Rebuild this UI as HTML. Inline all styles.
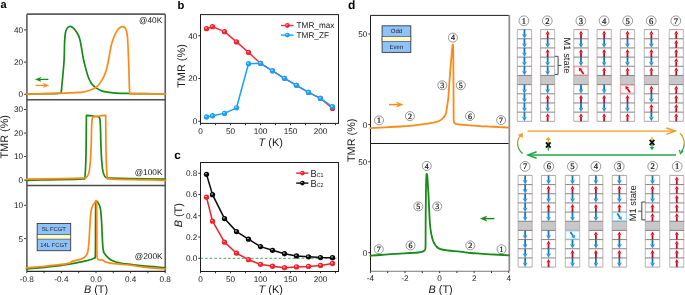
<!DOCTYPE html>
<html><head><meta charset="utf-8"><style>
html,body{margin:0;padding:0;background:#fff;}
svg{display:block;} svg{will-change:transform;} text{text-rendering:geometricPrecision;}
</style></head><body>
<svg xmlns="http://www.w3.org/2000/svg" width="685" height="295" viewBox="0 0 685 295">
<defs>
<radialGradient id="gr" cx="0.4" cy="0.38" r="0.6"><stop offset="0" stop-color="#fff" stop-opacity="0.95"/><stop offset="0.35" stop-color="#f2232d"/><stop offset="1" stop-color="#f2232d"/></radialGradient>
<radialGradient id="gb" cx="0.4" cy="0.38" r="0.6"><stop offset="0" stop-color="#fff" stop-opacity="0.95"/><stop offset="0.35" stop-color="#18a0fa"/><stop offset="1" stop-color="#18a0fa"/></radialGradient>
<radialGradient id="gk" cx="0.4" cy="0.38" r="0.6"><stop offset="0" stop-color="#fff" stop-opacity="0.95"/><stop offset="0.35" stop-color="#0a0a0a"/><stop offset="1" stop-color="#0a0a0a"/></radialGradient>
<linearGradient id="cvL" x1="0" y1="1" x2="0" y2="0"><stop offset="0" stop-color="#22a040"/><stop offset="0.5" stop-color="#8cae2a"/><stop offset="1" stop-color="#f39a1e"/></linearGradient>
<linearGradient id="cvR" x1="0" y1="0" x2="0" y2="1"><stop offset="0" stop-color="#f39a1e"/><stop offset="0.5" stop-color="#b0b020"/><stop offset="1" stop-color="#22a040"/></linearGradient>
</defs>
<rect width="685" height="295" fill="#fff"/>
<g stroke="#5c5c5c" stroke-width="1.6" fill="none">
<line x1="26.9" y1="14.15" x2="165.25" y2="14.15"/>
<line x1="26.9" y1="14.15" x2="26.9" y2="271.4"/>
<line x1="165.25" y1="14.15" x2="165.25" y2="271.4"/>
<line x1="26.9" y1="99.8" x2="165.25" y2="99.8" stroke="#4a4a4a" stroke-width="1.4"/>
<line x1="26.9" y1="185.5" x2="165.25" y2="185.5" stroke="#4a4a4a" stroke-width="1.4"/>
<line x1="26.9" y1="271.4" x2="165.25" y2="271.4" stroke="#2a2a2a" stroke-width="1.2"/>
</g>
<line x1="24.1" y1="94.3" x2="26.1" y2="94.3" stroke="#1c1c1c" stroke-width="0.9" />
<text x="23.1" y="97.2" font-size="8.2" text-anchor="end" fill="#1a1a1a" font-family="Liberation Sans" >0</text>
<line x1="24.1" y1="62.1" x2="26.1" y2="62.1" stroke="#1c1c1c" stroke-width="0.9" />
<text x="23.1" y="65" font-size="8.2" text-anchor="end" fill="#1a1a1a" font-family="Liberation Sans" >20</text>
<line x1="24.1" y1="29.9" x2="26.1" y2="29.9" stroke="#1c1c1c" stroke-width="0.9" />
<text x="23.1" y="32.8" font-size="8.2" text-anchor="end" fill="#1a1a1a" font-family="Liberation Sans" >40</text>
<line x1="24.1" y1="180.1" x2="26.1" y2="180.1" stroke="#1c1c1c" stroke-width="0.9" />
<text x="23.1" y="183" font-size="8.2" text-anchor="end" fill="#1a1a1a" font-family="Liberation Sans" >0</text>
<line x1="24.1" y1="156.5" x2="26.1" y2="156.5" stroke="#1c1c1c" stroke-width="0.9" />
<text x="23.1" y="159.4" font-size="8.2" text-anchor="end" fill="#1a1a1a" font-family="Liberation Sans" >10</text>
<line x1="24.1" y1="133.1" x2="26.1" y2="133.1" stroke="#1c1c1c" stroke-width="0.9" />
<text x="23.1" y="136" font-size="8.2" text-anchor="end" fill="#1a1a1a" font-family="Liberation Sans" >20</text>
<line x1="24.1" y1="109.4" x2="26.1" y2="109.4" stroke="#1c1c1c" stroke-width="0.9" />
<text x="23.1" y="112.3" font-size="8.2" text-anchor="end" fill="#1a1a1a" font-family="Liberation Sans" >30</text>
<line x1="24.1" y1="238.6" x2="26.1" y2="238.6" stroke="#1c1c1c" stroke-width="0.9" />
<text x="23.1" y="241.5" font-size="8.2" text-anchor="end" fill="#1a1a1a" font-family="Liberation Sans" >5</text>
<line x1="24.1" y1="205.3" x2="26.1" y2="205.3" stroke="#1c1c1c" stroke-width="0.9" />
<text x="23.1" y="208.2" font-size="8.2" text-anchor="end" fill="#1a1a1a" font-family="Liberation Sans" >10</text>
<line x1="26.8" y1="271.4" x2="26.8" y2="273.2" stroke="#1c1c1c" stroke-width="0.9" />
<line x1="44.1" y1="271.4" x2="44.1" y2="273.2" stroke="#1c1c1c" stroke-width="0.9" />
<line x1="61.4" y1="271.4" x2="61.4" y2="273.2" stroke="#1c1c1c" stroke-width="0.9" />
<line x1="78.7" y1="271.4" x2="78.7" y2="273.2" stroke="#1c1c1c" stroke-width="0.9" />
<line x1="96" y1="271.4" x2="96" y2="273.2" stroke="#1c1c1c" stroke-width="0.9" />
<line x1="113.3" y1="271.4" x2="113.3" y2="273.2" stroke="#1c1c1c" stroke-width="0.9" />
<line x1="130.6" y1="271.4" x2="130.6" y2="273.2" stroke="#1c1c1c" stroke-width="0.9" />
<line x1="147.9" y1="271.4" x2="147.9" y2="273.2" stroke="#1c1c1c" stroke-width="0.9" />
<line x1="165.2" y1="271.4" x2="165.2" y2="273.2" stroke="#1c1c1c" stroke-width="0.9" />
<text x="26.8" y="282" font-size="8.2" text-anchor="middle" fill="#1a1a1a" font-family="Liberation Sans" >-0.8</text>
<text x="61.4" y="282" font-size="8.2" text-anchor="middle" fill="#1a1a1a" font-family="Liberation Sans" >-0.4</text>
<text x="96" y="282" font-size="8.2" text-anchor="middle" fill="#1a1a1a" font-family="Liberation Sans" >0.0</text>
<text x="130.6" y="282" font-size="8.2" text-anchor="middle" fill="#1a1a1a" font-family="Liberation Sans" >0.4</text>
<text x="165.2" y="282" font-size="8.2" text-anchor="middle" fill="#1a1a1a" font-family="Liberation Sans" >0.8</text>
<text x="96" y="292.5" font-size="10.9" text-anchor="middle" fill="#1a1a1a" font-family="Liberation Sans"><tspan font-style="italic">B</tspan> (T)</text>
<text transform="translate(8.3,136.8) rotate(-90)" font-size="10.9" text-anchor="middle" fill="#1a1a1a" font-family="Liberation Sans">TMR (%)</text>
<text x="0.6" y="8.2" font-size="11" font-weight="bold" fill="#000" font-family="Liberation Sans">a</text>
<text x="162.2" y="23.3" font-size="8.3" text-anchor="end" fill="#111" font-family="Liberation Sans" >@40K</text>
<text x="162.5" y="175.3" font-size="8.3" text-anchor="end" fill="#111" font-family="Liberation Sans" >@100K</text>
<text x="162.6" y="259.3" font-size="8.3" text-anchor="end" fill="#111" font-family="Liberation Sans" >@200K</text>
<path d="M26.5,94 C29.58,93.95 39.75,93.82 45,93.7 C50.25,93.58 55.3,93.43 58,93.3 C60.7,93.17 60.67,92.97 61.2,92.9 C61.47,90.08 62.32,81.48 62.8,76 C63.28,70.52 63.8,65.67 64.1,60 C64.4,54.33 64.38,46.5 64.6,42 C64.82,37.5 65.02,35.23 65.4,33 C65.78,30.77 66.2,29.68 66.9,28.6 C67.6,27.52 68.7,26.73 69.6,26.5 C70.5,26.27 71.35,26.58 72.3,27.2 C73.25,27.82 74.35,28.98 75.3,30.2 C76.25,31.42 77.28,33.12 78,34.5 C78.72,35.88 79.07,36.58 79.6,38.5 C80.13,40.42 80.58,42.67 81.2,46 C81.82,49.33 82.58,54.92 83.3,58.5 C84.02,62.08 84.72,64.53 85.5,67.5 C86.28,70.47 87.17,73.92 88,76.3 C88.83,78.68 89.67,80.3 90.5,81.8 C91.33,83.3 92.08,84.28 93,85.3 C93.92,86.32 94.67,87.02 96,87.9 C97.33,88.78 99.33,89.93 101,90.6 C102.67,91.27 103.5,91.48 106,91.9 C108.5,92.32 112.03,92.83 116,93.1 C119.97,93.37 124.97,93.4 129.8,93.5 C134.63,93.6 139.07,93.65 145,93.7 C150.93,93.75 162,93.78 165.4,93.8" fill="none" stroke="#178a17" stroke-width="1.7" stroke-linejoin="round" stroke-linecap="round" />
<path d="M26.5,94.1 C29.58,94.05 39.42,93.92 45,93.8 C50.58,93.68 55,93.58 60,93.4 C65,93.22 71,92.97 75,92.7 C79,92.43 81.5,92.22 84,91.8 C86.5,91.38 88.33,90.77 90,90.2 C91.67,89.63 92.75,89.1 94,88.4 C95.25,87.7 96.33,87.13 97.5,86 C98.67,84.87 99.87,83.33 101,81.6 C102.13,79.87 103.37,77.7 104.3,75.6 C105.23,73.5 105.93,71.43 106.6,69 C107.27,66.57 107.78,63.58 108.3,61 C108.82,58.42 109.22,56.08 109.7,53.5 C110.18,50.92 110.65,47.83 111.2,45.5 C111.75,43.17 112.35,41.37 113,39.5 C113.65,37.63 114.27,35.95 115.1,34.3 C115.93,32.65 117.1,30.77 118,29.6 C118.9,28.43 119.77,27.8 120.5,27.3 C121.23,26.8 121.72,26.6 122.4,26.6 C123.08,26.6 123.97,26.7 124.6,27.3 C125.23,27.9 125.75,28.83 126.2,30.2 C126.65,31.57 126.98,32.53 127.3,35.5 C127.62,38.47 127.83,42.25 128.1,48 C128.37,53.75 128.65,62.63 128.9,70 C129.15,77.37 129.37,88.27 129.6,92.2 C129.83,96.13 130.18,93.37 130.3,93.6 C131.92,93.63 134.15,93.75 140,93.8 C145.85,93.85 161.17,93.88 165.4,93.9" fill="none" stroke="#fc8a18" stroke-width="1.7" stroke-linejoin="round" stroke-linecap="round" />
<line x1="39.32" y1="79.4" x2="48.4" y2="79.4" stroke="#178a17" stroke-width="1.3" />
<path d="M35.4,79.4 L41,77.3 L39.32,79.4 L41,81.5 Z" fill="#178a17" stroke="#178a17" stroke-width="0.4" stroke-linejoin="round"/>
<line x1="35.6" y1="85.4" x2="44.88" y2="85.4" stroke="#fc8a18" stroke-width="1.3" />
<path d="M48.8,85.4 L43.2,83.3 L44.88,85.4 L43.2,87.5 Z" fill="#fc8a18" stroke="#fc8a18" stroke-width="0.4" stroke-linejoin="round"/>
<path d="M26.5,180.3 C30.42,180.22 41.92,179.97 50,179.8 C58.08,179.63 69.22,179.45 75,179.3 C80.78,179.15 83.08,178.97 84.7,178.9 C84.77,178.32 84.92,178.22 85.1,175.4 C85.28,172.58 85.62,167.9 85.8,162 C85.98,156.1 86.1,147.77 86.2,140 C86.3,132.23 86.37,119.5 86.4,115.4 C87.33,115.48 90.05,115.68 92,115.9 C93.95,116.12 96.88,116.42 98.1,116.7 C99.32,116.98 98.98,117.08 99.3,117.6 C99.62,118.12 99.8,118.07 100,119.8 C100.2,121.53 100.35,123.8 100.5,128 C100.65,132.2 100.68,139.33 100.9,145 C101.12,150.67 101.45,157.55 101.8,162 C102.15,166.45 102.5,169.3 103,171.7 C103.5,174.1 104.18,175.4 104.8,176.4 C105.42,177.4 105.83,177.42 106.7,177.7 C107.57,177.98 106.12,177.93 110,178.1 C113.88,178.27 120.77,178.52 130,178.7 C139.23,178.88 159.5,179.12 165.4,179.2" fill="none" stroke="#178a17" stroke-width="1.7" stroke-linejoin="round" stroke-linecap="round" />
<path d="M26.7,179.2 C32.6,179.12 52.87,178.88 62.1,178.7 C71.33,178.52 78.22,178.27 82.1,178.1 C85.98,177.93 84.53,177.98 85.4,177.7 C86.27,177.42 86.68,177.4 87.3,176.4 C87.92,175.4 88.6,174.1 89.1,171.7 C89.6,169.3 89.95,166.45 90.3,162 C90.65,157.55 90.98,150.67 91.2,145 C91.42,139.33 91.45,132.2 91.6,128 C91.75,123.8 91.9,121.53 92.1,119.8 C92.3,118.07 92.48,118.12 92.8,117.6 C93.12,117.08 92.78,116.98 94,116.7 C95.22,116.42 98.15,116.12 100.1,115.9 C102.05,115.68 104.77,115.48 105.7,115.4 C105.73,119.5 105.8,132.23 105.9,140 C106,147.77 106.12,156.1 106.3,162 C106.48,167.9 106.82,172.58 107,175.4 C107.18,178.22 107.33,178.32 107.4,178.9 C109.02,178.97 111.32,179.15 117.1,179.3 C122.88,179.45 134.02,179.63 142.1,179.8 C150.18,179.97 161.68,180.22 165.6,180.3" fill="none" stroke="#fc8a18" stroke-width="1.7" stroke-linejoin="round" stroke-linecap="round" />
<path d="M26.5,268.8 C27.92,268.68 31.97,268.35 35,268.1 C38.03,267.85 41.37,267.62 44.7,267.3 C48.03,266.98 51.88,266.58 55,266.2 C58.12,265.82 60.57,265.42 63.4,265 C66.23,264.58 69.2,264.18 72,263.7 C74.8,263.22 77.87,262.58 80.2,262.1 C82.53,261.62 84.37,261.18 86,260.8 C87.63,260.42 88.83,260.13 90,259.8 C91.17,259.47 92.23,259.13 93,258.8 C93.77,258.47 94.22,258.22 94.6,257.8 C94.98,257.38 95.15,259.27 95.3,256.3 C95.45,253.33 95.45,246.88 95.5,240 C95.55,233.12 95.55,221.17 95.6,215 C95.65,208.83 95.7,205.37 95.8,203 C95.9,200.63 95.98,201.03 96.2,200.8 C96.42,200.57 96.77,201.22 97.1,201.6 C97.43,201.98 97.75,202.33 98.2,203.1 C98.65,203.87 99.37,204.83 99.8,206.2 C100.23,207.57 100.5,208.67 100.8,211.3 C101.1,213.93 101.37,218.05 101.6,222 C101.83,225.95 102,231 102.2,235 C102.4,239 102.57,243.2 102.8,246 C103.03,248.8 103.2,250.4 103.6,251.8 C104,253.2 104.47,253.43 105.2,254.4 C105.93,255.37 107.03,256.67 108,257.6 C108.97,258.53 110,259.38 111,260 C112,260.62 112.83,260.88 114,261.3 C115.17,261.72 116.5,262.13 118,262.5 C119.5,262.87 120.67,263.17 123,263.5 C125.33,263.83 128.67,264.12 132,264.5 C135.33,264.88 139.33,265.43 143,265.8 C146.67,266.17 150.27,266.35 154,266.7 C157.73,267.05 163.5,267.7 165.4,267.9" fill="none" stroke="#178a17" stroke-width="1.7" stroke-linejoin="round" stroke-linecap="round" />
<path d="M26.5,267.9 C27.92,267.77 31.97,267.37 35,267.1 C38.03,266.83 41.37,266.62 44.7,266.3 C48.03,265.98 51.88,265.57 55,265.2 C58.12,264.83 60.97,264.45 63.4,264.1 C65.83,263.75 68.23,263.53 69.6,263.1 C70.97,262.67 70.7,261.92 71.6,261.5 C72.5,261.08 73.57,260.95 75,260.6 C76.43,260.25 78.87,259.78 80.2,259.4 C81.53,259.02 82.2,258.73 83,258.3 C83.8,257.87 84.37,257.43 85,256.8 C85.63,256.17 86.33,255.33 86.8,254.5 C87.27,253.67 87.5,253.22 87.8,251.8 C88.1,250.38 88.35,248.63 88.6,246 C88.85,243.37 89.07,239.67 89.3,236 C89.53,232.33 89.78,227.5 90,224 C90.22,220.5 90.37,217.42 90.6,215 C90.83,212.58 91.05,211.03 91.4,209.5 C91.75,207.97 92.23,206.82 92.7,205.8 C93.17,204.78 93.75,204.1 94.2,203.4 C94.65,202.7 95.08,202.03 95.4,201.6 C95.72,201.17 95.9,200.65 96.1,200.8 C96.3,200.95 96.48,200.13 96.6,202.5 C96.72,204.87 96.75,208.75 96.8,215 C96.85,221.25 96.87,233.13 96.9,240 C96.93,246.87 96.85,253.03 97,256.2 C97.15,259.37 97.4,258.37 97.8,259 C98.2,259.63 98.78,259.87 99.4,260 C100.02,260.13 100.82,259.7 101.5,259.8 C102.18,259.9 102.92,260.27 103.5,260.6 C104.08,260.93 104.25,261.45 105,261.8 C105.75,262.15 106.5,262.4 108,262.7 C109.5,263 111.5,263.3 114,263.6 C116.5,263.9 120,264.2 123,264.5 C126,264.8 128.67,264.95 132,265.4 C135.33,265.85 139.33,266.75 143,267.2 C146.67,267.65 150.27,267.8 154,268.1 C157.73,268.4 163.5,268.85 165.4,269" fill="none" stroke="#fc8a18" stroke-width="1.7" stroke-linejoin="round" stroke-linecap="round" />
<rect x="37.2" y="223.5" width="33.5" height="27.2" fill="#8ec2fa" stroke="#3a3a3a" stroke-width="0.9"/>
<rect x="37.2" y="234.7" width="33.5" height="4.4" fill="#fefbcc" stroke="#3a3a3a" stroke-width="0.6"/>
<text x="53.95" y="231.22" font-size="5.9" text-anchor="middle" fill="#222" font-family="Liberation Sans" >5L FCGT</text>
<text x="53.95" y="247.02" font-size="5.9" text-anchor="middle" fill="#222" font-family="Liberation Sans" >14L FCGT</text>
<rect x="200.5" y="14.6" width="138" height="108.8" fill="none" stroke="#1c1c1c" stroke-width="1"/>
<line x1="198.3" y1="121.3" x2="200.5" y2="121.3" stroke="#1c1c1c" stroke-width="0.9" />
<text x="197.3" y="124.2" font-size="8.2" text-anchor="end" fill="#1a1a1a" font-family="Liberation Sans" >0</text>
<line x1="198.3" y1="78.5" x2="200.5" y2="78.5" stroke="#1c1c1c" stroke-width="0.9" />
<text x="197.3" y="81.4" font-size="8.2" text-anchor="end" fill="#1a1a1a" font-family="Liberation Sans" >20</text>
<line x1="198.3" y1="35.7" x2="200.5" y2="35.7" stroke="#1c1c1c" stroke-width="0.9" />
<text x="197.3" y="38.6" font-size="8.2" text-anchor="end" fill="#1a1a1a" font-family="Liberation Sans" >40</text>
<line x1="200.5" y1="123.4" x2="200.5" y2="125.2" stroke="#1c1c1c" stroke-width="0.9" />
<line x1="215.5" y1="123.4" x2="215.5" y2="125.2" stroke="#1c1c1c" stroke-width="0.9" />
<line x1="230.5" y1="123.4" x2="230.5" y2="125.2" stroke="#1c1c1c" stroke-width="0.9" />
<line x1="245.5" y1="123.4" x2="245.5" y2="125.2" stroke="#1c1c1c" stroke-width="0.9" />
<line x1="260.5" y1="123.4" x2="260.5" y2="125.2" stroke="#1c1c1c" stroke-width="0.9" />
<line x1="275.5" y1="123.4" x2="275.5" y2="125.2" stroke="#1c1c1c" stroke-width="0.9" />
<line x1="290.5" y1="123.4" x2="290.5" y2="125.2" stroke="#1c1c1c" stroke-width="0.9" />
<line x1="305.5" y1="123.4" x2="305.5" y2="125.2" stroke="#1c1c1c" stroke-width="0.9" />
<line x1="320.5" y1="123.4" x2="320.5" y2="125.2" stroke="#1c1c1c" stroke-width="0.9" />
<line x1="335.5" y1="123.4" x2="335.5" y2="125.2" stroke="#1c1c1c" stroke-width="0.9" />
<text x="200.5" y="133.6" font-size="8.2" text-anchor="middle" fill="#1a1a1a" font-family="Liberation Sans" >0</text>
<text x="230.5" y="133.6" font-size="8.2" text-anchor="middle" fill="#1a1a1a" font-family="Liberation Sans" >50</text>
<text x="260.5" y="133.6" font-size="8.2" text-anchor="middle" fill="#1a1a1a" font-family="Liberation Sans" >100</text>
<text x="290.5" y="133.6" font-size="8.2" text-anchor="middle" fill="#1a1a1a" font-family="Liberation Sans" >150</text>
<text x="320.5" y="133.6" font-size="8.2" text-anchor="middle" fill="#1a1a1a" font-family="Liberation Sans" >200</text>
<text x="270.7" y="145.8" font-size="10.9" text-anchor="middle" fill="#1a1a1a" font-family="Liberation Sans"><tspan font-style="italic">T</tspan> (K)</text>
<text transform="translate(184.6,66) rotate(-90)" font-size="10.9" text-anchor="middle" fill="#1a1a1a" font-family="Liberation Sans">TMR (%)</text>
<text x="177.6" y="8.8" font-size="11.2" font-weight="bold" fill="#000" font-family="Liberation Sans">b</text>
<path d="M206.5,28.64 L212.5,26.71 L224.5,31.63 L236.5,41.91 L248.5,52.39 L260.5,63.31 L272.5,70.8 L284.5,78.29 L296.5,85.35 L308.5,92.41 L320.5,98.4 L332.5,108.46" fill="none" stroke="#f0303a" stroke-width="1.5" stroke-linejoin="round" stroke-linecap="round" />
<circle cx="206.5" cy="28.64" r="2.65" fill="url(#gr)"/>
<circle cx="212.5" cy="26.71" r="2.65" fill="url(#gr)"/>
<circle cx="224.5" cy="31.63" r="2.65" fill="url(#gr)"/>
<circle cx="236.5" cy="41.91" r="2.65" fill="url(#gr)"/>
<circle cx="248.5" cy="52.39" r="2.65" fill="url(#gr)"/>
<circle cx="260.5" cy="63.31" r="2.65" fill="url(#gr)"/>
<circle cx="272.5" cy="70.8" r="2.65" fill="url(#gr)"/>
<circle cx="284.5" cy="78.29" r="2.65" fill="url(#gr)"/>
<circle cx="296.5" cy="85.35" r="2.65" fill="url(#gr)"/>
<circle cx="308.5" cy="92.41" r="2.65" fill="url(#gr)"/>
<circle cx="320.5" cy="98.4" r="2.65" fill="url(#gr)"/>
<circle cx="332.5" cy="108.46" r="2.65" fill="url(#gr)"/>
<path d="M206.5,117.02 L212.5,115.74 L224.5,113.38 L236.5,107.82 L248.5,63.73 L260.5,63.31 L272.5,70.8 L284.5,78.29 L296.5,85.35 L308.5,92.41 L320.5,98.4 L332.5,106.75" fill="none" stroke="#18a0fa" stroke-width="1.5" stroke-linejoin="round" stroke-linecap="round" />
<circle cx="206.5" cy="117.02" r="2.65" fill="url(#gb)"/>
<circle cx="212.5" cy="115.74" r="2.65" fill="url(#gb)"/>
<circle cx="224.5" cy="113.38" r="2.65" fill="url(#gb)"/>
<circle cx="236.5" cy="107.82" r="2.65" fill="url(#gb)"/>
<circle cx="248.5" cy="63.73" r="2.65" fill="url(#gb)"/>
<circle cx="260.5" cy="63.31" r="2.65" fill="url(#gb)"/>
<circle cx="272.5" cy="70.8" r="2.65" fill="url(#gb)"/>
<circle cx="284.5" cy="78.29" r="2.65" fill="url(#gb)"/>
<circle cx="296.5" cy="85.35" r="2.65" fill="url(#gb)"/>
<circle cx="308.5" cy="92.41" r="2.65" fill="url(#gb)"/>
<circle cx="320.5" cy="98.4" r="2.65" fill="url(#gb)"/>
<circle cx="332.5" cy="106.75" r="2.65" fill="url(#gb)"/>
<line x1="281" y1="25.5" x2="293.6" y2="25.5" stroke="#f0303a" stroke-width="1.4" />
<circle cx="287.4" cy="25.5" r="2.4" fill="url(#gr)"/>
<text x="296.6" y="28.4" font-size="8.2" text-anchor="start" fill="#1a1a1a" font-family="Liberation Sans" >TMR_max</text>
<line x1="281" y1="35.1" x2="293.6" y2="35.1" stroke="#18a0fa" stroke-width="1.4" />
<circle cx="287.4" cy="35.1" r="2.4" fill="url(#gb)"/>
<text x="296.6" y="38" font-size="8.2" text-anchor="start" fill="#1a1a1a" font-family="Liberation Sans" >TMR_ZF</text>
<rect x="200.5" y="162.5" width="138" height="109" fill="none" stroke="#1c1c1c" stroke-width="1"/>
<line x1="198.3" y1="258.3" x2="200.5" y2="258.3" stroke="#1c1c1c" stroke-width="0.9" />
<text x="197.3" y="261.2" font-size="8.2" text-anchor="end" fill="#1a1a1a" font-family="Liberation Sans" >0.0</text>
<line x1="198.3" y1="237.04" x2="200.5" y2="237.04" stroke="#1c1c1c" stroke-width="0.9" />
<text x="197.3" y="239.94" font-size="8.2" text-anchor="end" fill="#1a1a1a" font-family="Liberation Sans" >0.2</text>
<line x1="198.3" y1="215.78" x2="200.5" y2="215.78" stroke="#1c1c1c" stroke-width="0.9" />
<text x="197.3" y="218.68" font-size="8.2" text-anchor="end" fill="#1a1a1a" font-family="Liberation Sans" >0.4</text>
<line x1="198.3" y1="194.52" x2="200.5" y2="194.52" stroke="#1c1c1c" stroke-width="0.9" />
<text x="197.3" y="197.42" font-size="8.2" text-anchor="end" fill="#1a1a1a" font-family="Liberation Sans" >0.6</text>
<line x1="198.3" y1="173.26" x2="200.5" y2="173.26" stroke="#1c1c1c" stroke-width="0.9" />
<text x="197.3" y="176.16" font-size="8.2" text-anchor="end" fill="#1a1a1a" font-family="Liberation Sans" >0.8</text>
<line x1="200.5" y1="271.5" x2="200.5" y2="273.3" stroke="#1c1c1c" stroke-width="0.9" />
<line x1="215.5" y1="271.5" x2="215.5" y2="273.3" stroke="#1c1c1c" stroke-width="0.9" />
<line x1="230.5" y1="271.5" x2="230.5" y2="273.3" stroke="#1c1c1c" stroke-width="0.9" />
<line x1="245.5" y1="271.5" x2="245.5" y2="273.3" stroke="#1c1c1c" stroke-width="0.9" />
<line x1="260.5" y1="271.5" x2="260.5" y2="273.3" stroke="#1c1c1c" stroke-width="0.9" />
<line x1="275.5" y1="271.5" x2="275.5" y2="273.3" stroke="#1c1c1c" stroke-width="0.9" />
<line x1="290.5" y1="271.5" x2="290.5" y2="273.3" stroke="#1c1c1c" stroke-width="0.9" />
<line x1="305.5" y1="271.5" x2="305.5" y2="273.3" stroke="#1c1c1c" stroke-width="0.9" />
<line x1="320.5" y1="271.5" x2="320.5" y2="273.3" stroke="#1c1c1c" stroke-width="0.9" />
<line x1="335.5" y1="271.5" x2="335.5" y2="273.3" stroke="#1c1c1c" stroke-width="0.9" />
<text x="200.5" y="281.6" font-size="8.2" text-anchor="middle" fill="#1a1a1a" font-family="Liberation Sans" >0</text>
<text x="230.5" y="281.6" font-size="8.2" text-anchor="middle" fill="#1a1a1a" font-family="Liberation Sans" >50</text>
<text x="260.5" y="281.6" font-size="8.2" text-anchor="middle" fill="#1a1a1a" font-family="Liberation Sans" >100</text>
<text x="290.5" y="281.6" font-size="8.2" text-anchor="middle" fill="#1a1a1a" font-family="Liberation Sans" >150</text>
<text x="320.5" y="281.6" font-size="8.2" text-anchor="middle" fill="#1a1a1a" font-family="Liberation Sans" >200</text>
<text x="270.7" y="292.8" font-size="10.9" text-anchor="middle" fill="#1a1a1a" font-family="Liberation Sans"><tspan font-style="italic">T</tspan> (K)</text>
<text transform="translate(182.2,215.2) rotate(-90)" font-size="10.9" text-anchor="middle" fill="#1a1a1a" font-family="Liberation Sans"><tspan font-style="italic">B</tspan> (T)</text>
<text x="174.2" y="158.8" font-size="11.8" font-weight="bold" fill="#000" font-family="Liberation Sans">c</text>
<line x1="200.5" y1="258.3" x2="338.5" y2="258.3" stroke="#2a9d4a" stroke-width="0.9" stroke-dasharray="2.6,2"/>
<path d="M206.5,174.32 L212.5,194.63 L224.5,218.54 L236.5,231.62 L248.5,239.17 L260.5,246.61 L272.5,250.33 L284.5,253.73 L296.5,255.96 L308.5,256.81 L320.5,257.56 L332.5,257.66" fill="none" stroke="#0a0a0a" stroke-width="1.5" stroke-linejoin="round" stroke-linecap="round" />
<circle cx="206.5" cy="174.32" r="2.65" fill="url(#gk)"/>
<circle cx="212.5" cy="194.63" r="2.65" fill="url(#gk)"/>
<circle cx="224.5" cy="218.54" r="2.65" fill="url(#gk)"/>
<circle cx="236.5" cy="231.62" r="2.65" fill="url(#gk)"/>
<circle cx="248.5" cy="239.17" r="2.65" fill="url(#gk)"/>
<circle cx="260.5" cy="246.61" r="2.65" fill="url(#gk)"/>
<circle cx="272.5" cy="250.33" r="2.65" fill="url(#gk)"/>
<circle cx="284.5" cy="253.73" r="2.65" fill="url(#gk)"/>
<circle cx="296.5" cy="255.96" r="2.65" fill="url(#gk)"/>
<circle cx="308.5" cy="256.81" r="2.65" fill="url(#gk)"/>
<circle cx="320.5" cy="257.56" r="2.65" fill="url(#gk)"/>
<circle cx="332.5" cy="257.66" r="2.65" fill="url(#gk)"/>
<path d="M206.5,197.18 L212.5,221.2 L224.5,242.14 L236.5,253.2 L248.5,259.68 L260.5,264.36 L272.5,266.27 L284.5,267.65 L296.5,266.91 L308.5,266.38 L320.5,265.42 L332.5,263.51" fill="none" stroke="#f0202a" stroke-width="1.5" stroke-linejoin="round" stroke-linecap="round" />
<circle cx="206.5" cy="197.18" r="2.65" fill="url(#gr)"/>
<circle cx="212.5" cy="221.2" r="2.65" fill="url(#gr)"/>
<circle cx="224.5" cy="242.14" r="2.65" fill="url(#gr)"/>
<circle cx="236.5" cy="253.2" r="2.65" fill="url(#gr)"/>
<circle cx="248.5" cy="259.68" r="2.65" fill="url(#gr)"/>
<circle cx="260.5" cy="264.36" r="2.65" fill="url(#gr)"/>
<circle cx="272.5" cy="266.27" r="2.65" fill="url(#gr)"/>
<circle cx="284.5" cy="267.65" r="2.65" fill="url(#gr)"/>
<circle cx="296.5" cy="266.91" r="2.65" fill="url(#gr)"/>
<circle cx="308.5" cy="266.38" r="2.65" fill="url(#gr)"/>
<circle cx="320.5" cy="265.42" r="2.65" fill="url(#gr)"/>
<circle cx="332.5" cy="263.51" r="2.65" fill="url(#gr)"/>
<line x1="296.2" y1="173.1" x2="308.4" y2="173.1" stroke="#f0202a" stroke-width="1.4" />
<circle cx="302.4" cy="173.1" r="2.3" fill="url(#gr)"/>
<line x1="296.2" y1="183.1" x2="308.4" y2="183.1" stroke="#0a0a0a" stroke-width="1.4" />
<circle cx="302.4" cy="183.1" r="2.3" fill="url(#gk)"/>
<text x="310.4" y="176.6" font-size="9.4" fill="#1a1a1a" font-family="Liberation Sans" transform="translate(310.4,176.6) scale(1,1.08) translate(-310.4,-176.6)">B<tspan font-size="5.3" dy="0.5">C1</tspan></text>
<text x="310.4" y="186.8" font-size="9.4" fill="#1a1a1a" font-family="Liberation Sans" transform="translate(310.4,186.8) scale(1,1.08) translate(-310.4,-186.8)">B<tspan font-size="5.3" dy="0.5">C2</tspan></text>
<line x1="370.5" y1="15.4" x2="370.5" y2="271.3" stroke="#1c1c1c" stroke-width="1"/>
<line x1="370.5" y1="15.4" x2="509.0" y2="15.4" stroke="#1c1c1c" stroke-width="1"/>
<line x1="370.5" y1="143.5" x2="509.0" y2="143.5" stroke="#1c1c1c" stroke-width="1"/>
<line x1="370.5" y1="271.3" x2="509.0" y2="271.3" stroke="#777" stroke-width="1.1"/>
<line x1="509.3" y1="14.9" x2="509.3" y2="271.3" stroke="#8c8c8c" stroke-width="1.7"/>
<line x1="368.3" y1="34" x2="370.5" y2="34" stroke="#1c1c1c" stroke-width="0.9" />
<text x="367.3" y="36.9" font-size="8.2" text-anchor="end" fill="#1a1a1a" font-family="Liberation Sans" >50</text>
<line x1="368.3" y1="124.6" x2="370.5" y2="124.6" stroke="#1c1c1c" stroke-width="0.9" />
<text x="367.3" y="127.5" font-size="8.2" text-anchor="end" fill="#1a1a1a" font-family="Liberation Sans" >0</text>
<line x1="368.3" y1="161.8" x2="370.5" y2="161.8" stroke="#1c1c1c" stroke-width="0.9" />
<text x="367.3" y="164.7" font-size="8.2" text-anchor="end" fill="#1a1a1a" font-family="Liberation Sans" >50</text>
<line x1="368.3" y1="252.7" x2="370.5" y2="252.7" stroke="#1c1c1c" stroke-width="0.9" />
<text x="367.3" y="255.6" font-size="8.2" text-anchor="end" fill="#1a1a1a" font-family="Liberation Sans" >0</text>
<line x1="370.4" y1="271.3" x2="370.4" y2="273.1" stroke="#1c1c1c" stroke-width="0.9" />
<line x1="387.7" y1="271.3" x2="387.7" y2="273.1" stroke="#1c1c1c" stroke-width="0.9" />
<line x1="405" y1="271.3" x2="405" y2="273.1" stroke="#1c1c1c" stroke-width="0.9" />
<line x1="422.3" y1="271.3" x2="422.3" y2="273.1" stroke="#1c1c1c" stroke-width="0.9" />
<line x1="439.6" y1="271.3" x2="439.6" y2="273.1" stroke="#1c1c1c" stroke-width="0.9" />
<line x1="456.9" y1="271.3" x2="456.9" y2="273.1" stroke="#1c1c1c" stroke-width="0.9" />
<line x1="474.2" y1="271.3" x2="474.2" y2="273.1" stroke="#1c1c1c" stroke-width="0.9" />
<line x1="491.5" y1="271.3" x2="491.5" y2="273.1" stroke="#1c1c1c" stroke-width="0.9" />
<line x1="508.8" y1="271.3" x2="508.8" y2="273.1" stroke="#1c1c1c" stroke-width="0.9" />
<text x="370.4" y="281" font-size="8.2" text-anchor="middle" fill="#1a1a1a" font-family="Liberation Sans" >-4</text>
<text x="405" y="281" font-size="8.2" text-anchor="middle" fill="#1a1a1a" font-family="Liberation Sans" >-2</text>
<text x="439.6" y="281" font-size="8.2" text-anchor="middle" fill="#1a1a1a" font-family="Liberation Sans" >0</text>
<text x="474.2" y="281" font-size="8.2" text-anchor="middle" fill="#1a1a1a" font-family="Liberation Sans" >2</text>
<text x="508.8" y="281" font-size="8.2" text-anchor="middle" fill="#1a1a1a" font-family="Liberation Sans" >4</text>
<text x="440.6" y="292.6" font-size="10.9" text-anchor="middle" fill="#1a1a1a" font-family="Liberation Sans"><tspan font-style="italic">B</tspan> (T)</text>
<text transform="translate(355.1,140.3) rotate(-90)" font-size="10.9" text-anchor="middle" fill="#1a1a1a" font-family="Liberation Sans">TMR (%)</text>
<text x="348.1" y="9.1" font-size="12" font-weight="bold" fill="#000" font-family="Liberation Sans">d</text>
<rect x="382.1" y="25.8" width="28.7" height="26.6" fill="#8ec2fa" stroke="#3a3a3a" stroke-width="0.9"/>
<rect x="382.1" y="36.5" width="28.7" height="4.8" fill="#fefbcc" stroke="#3a3a3a" stroke-width="0.6"/>
<text x="396.45" y="33.31" font-size="6.0" text-anchor="middle" fill="#222" font-family="Liberation Sans" >Odd</text>
<text x="396.45" y="49.01" font-size="6.0" text-anchor="middle" fill="#222" font-family="Liberation Sans" >Even</text>
<path d="M370.4,128.1 C372.83,127.97 380.07,127.57 385,127.3 C389.93,127.03 395.83,126.75 400,126.5 C404.17,126.25 406.67,126.1 410,125.8 C413.33,125.5 417,125.07 420,124.7 C423,124.33 426,123.9 428,123.6 C430,123.3 430.67,123.17 432,122.9 C433.33,122.63 434.75,122.35 436,122 C437.25,121.65 438.47,121.33 439.5,120.8 C440.53,120.27 441.42,119.5 442.2,118.8 C442.98,118.1 443.67,117.3 444.2,116.6 C444.73,115.9 445.05,115.4 445.4,114.6 C445.75,113.8 445.98,113.4 446.3,111.8 C446.62,110.2 446.97,107.3 447.3,105 C447.63,102.7 447.98,101.33 448.3,98 C448.62,94.67 448.92,89 449.2,85 C449.48,81 449.73,77.5 450,74 C450.27,70.5 450.53,67.17 450.8,64 C451.07,60.83 451.37,57.67 451.6,55 C451.83,52.33 452.02,49.73 452.2,48 C452.38,46.27 452.55,44.85 452.7,44.6 C452.85,44.35 453,44.77 453.1,46.5 C453.2,48.23 453.25,51.08 453.3,55 C453.35,58.92 453.37,64.17 453.4,70 C453.43,75.83 453.47,83.33 453.5,90 C453.53,96.67 453.57,104.97 453.6,110 C453.63,115.03 453.58,118.07 453.7,120.2 C453.82,122.33 453.98,122.18 454.3,122.8 C454.62,123.42 454.98,123.63 455.6,123.9 C456.22,124.17 456.6,124.23 458,124.4 C459.4,124.57 462,124.75 464,124.9 C466,125.05 467.33,125.1 470,125.3 C472.67,125.5 476.67,125.88 480,126.1 C483.33,126.32 486.67,126.43 490,126.6 C493.33,126.77 496.83,126.93 500,127.1 C503.17,127.27 507.5,127.52 509,127.6" fill="none" stroke="#fc8a18" stroke-width="1.8" stroke-linejoin="round" stroke-linecap="round" />
<path d="M370.4,255.7 C372,255.58 376.62,255.25 380,255 C383.38,254.75 387.37,254.43 390.7,254.2 C394.03,253.97 396.78,253.8 400,253.6 C403.22,253.4 407,253.18 410,253 C413,252.82 416,252.68 418,252.5 C420,252.32 420.95,252.23 422,251.9 C423.05,251.57 423.73,251.07 424.3,250.5 C424.87,249.93 425.18,250.25 425.4,248.5 C425.62,246.75 425.55,245.58 425.6,240 C425.65,234.42 425.63,223.33 425.7,215 C425.77,206.67 425.9,196.17 426,190 C426.1,183.83 426.18,180.67 426.3,178 C426.42,175.33 426.53,174.33 426.7,174 C426.87,173.67 427.1,174.17 427.3,176 C427.5,177.83 427.7,181.83 427.9,185 C428.1,188.17 428.3,191.17 428.5,195 C428.7,198.83 428.9,203.83 429.1,208 C429.3,212.17 429.47,216.5 429.7,220 C429.93,223.5 430.2,226.5 430.5,229 C430.8,231.5 431.12,233.17 431.5,235 C431.88,236.83 432.3,238.53 432.8,240 C433.3,241.47 433.88,242.7 434.5,243.8 C435.12,244.9 435.5,245.7 436.5,246.6 C437.5,247.5 438.58,248.55 440.5,249.2 C442.42,249.85 444.75,250.1 448,250.5 C451.25,250.9 456.17,251.18 460,251.6 C463.83,252.02 467.67,252.67 471,253 C474.33,253.33 476.83,253.38 480,253.6 C483.17,253.82 485.17,254.02 490,254.3 C494.83,254.58 505.83,255.13 509,255.3" fill="none" stroke="#178a17" stroke-width="1.8" stroke-linejoin="round" stroke-linecap="round" />
<line x1="389" y1="104.6" x2="398.38" y2="104.6" stroke="#fc8a18" stroke-width="1.5" />
<path d="M403,104.6 L396.4,102 L398.38,104.6 L396.4,107.2 Z" fill="#fc8a18" stroke="#fc8a18" stroke-width="0.4" stroke-linejoin="round"/>
<line x1="484.92" y1="218.6" x2="494.3" y2="218.6" stroke="#178a17" stroke-width="1.5" />
<path d="M480.3,218.6 L486.9,216 L484.92,218.6 L486.9,221.2 Z" fill="#178a17" stroke="#178a17" stroke-width="0.4" stroke-linejoin="round"/>
<circle cx="379" cy="120.4" r="4.5" fill="none" stroke="#444" stroke-width="0.55"/>
<text x="379" y="123.12" font-size="8.0" text-anchor="middle" fill="#111" stroke="#111" stroke-width="0.22" font-family="Liberation Serif">1</text>
<circle cx="409.9" cy="116.1" r="4.5" fill="none" stroke="#444" stroke-width="0.55"/>
<text x="409.9" y="118.82" font-size="8.0" text-anchor="middle" fill="#111" stroke="#111" stroke-width="0.22" font-family="Liberation Serif">2</text>
<circle cx="442.3" cy="85.3" r="4.5" fill="none" stroke="#444" stroke-width="0.55"/>
<text x="442.3" y="88.02" font-size="8.0" text-anchor="middle" fill="#111" stroke="#111" stroke-width="0.22" font-family="Liberation Serif">3</text>
<circle cx="452.9" cy="37.6" r="4.5" fill="none" stroke="#444" stroke-width="0.55"/>
<text x="452.9" y="40.32" font-size="8.0" text-anchor="middle" fill="#111" stroke="#111" stroke-width="0.22" font-family="Liberation Serif">4</text>
<circle cx="460.8" cy="85.3" r="4.5" fill="none" stroke="#444" stroke-width="0.55"/>
<text x="460.8" y="88.02" font-size="8.0" text-anchor="middle" fill="#111" stroke="#111" stroke-width="0.22" font-family="Liberation Serif">5</text>
<circle cx="470" cy="116" r="4.5" fill="none" stroke="#444" stroke-width="0.55"/>
<text x="470" y="118.72" font-size="8.0" text-anchor="middle" fill="#111" stroke="#111" stroke-width="0.22" font-family="Liberation Serif">6</text>
<circle cx="501.1" cy="120.1" r="4.5" fill="none" stroke="#444" stroke-width="0.55"/>
<text x="501.1" y="122.82" font-size="8.0" text-anchor="middle" fill="#111" stroke="#111" stroke-width="0.22" font-family="Liberation Serif">7</text>
<circle cx="501.5" cy="249.2" r="4.5" fill="none" stroke="#444" stroke-width="0.55"/>
<text x="501.5" y="251.92" font-size="8.0" text-anchor="middle" fill="#111" stroke="#111" stroke-width="0.22" font-family="Liberation Serif">1</text>
<circle cx="470.3" cy="245.4" r="4.5" fill="none" stroke="#444" stroke-width="0.55"/>
<text x="470.3" y="248.12" font-size="8.0" text-anchor="middle" fill="#111" stroke="#111" stroke-width="0.22" font-family="Liberation Serif">2</text>
<circle cx="437.2" cy="206.4" r="4.5" fill="none" stroke="#444" stroke-width="0.55"/>
<text x="437.2" y="209.12" font-size="8.0" text-anchor="middle" fill="#111" stroke="#111" stroke-width="0.22" font-family="Liberation Serif">3</text>
<circle cx="426.7" cy="165.9" r="4.5" fill="none" stroke="#444" stroke-width="0.55"/>
<text x="426.7" y="168.62" font-size="8.0" text-anchor="middle" fill="#111" stroke="#111" stroke-width="0.22" font-family="Liberation Serif">4</text>
<circle cx="418.3" cy="206.4" r="4.5" fill="none" stroke="#444" stroke-width="0.55"/>
<text x="418.3" y="209.12" font-size="8.0" text-anchor="middle" fill="#111" stroke="#111" stroke-width="0.22" font-family="Liberation Serif">5</text>
<circle cx="410.5" cy="245.5" r="4.5" fill="none" stroke="#444" stroke-width="0.55"/>
<text x="410.5" y="248.22" font-size="8.0" text-anchor="middle" fill="#111" stroke="#111" stroke-width="0.22" font-family="Liberation Serif">6</text>
<circle cx="378.8" cy="249.2" r="4.5" fill="none" stroke="#444" stroke-width="0.55"/>
<text x="378.8" y="251.92" font-size="8.0" text-anchor="middle" fill="#111" stroke="#111" stroke-width="0.22" font-family="Liberation Serif">7</text>
<rect x="517.3" y="75.45" width="14.3" height="9.17" fill="#c8c8c8"/>
<line x1="517.3" y1="29.6" x2="517.3" y2="121.3" stroke="#b4acac" stroke-width="0.9"/>
<line x1="531.6" y1="29.6" x2="531.6" y2="121.3" stroke="#b4acac" stroke-width="0.9"/>
<line x1="517.3" y1="29.6" x2="531.6" y2="29.6" stroke="#a8a0a0" stroke-width="0.95"/>
<line x1="517.3" y1="38.77" x2="531.6" y2="38.77" stroke="#857b7b" stroke-width="0.95"/>
<line x1="517.3" y1="47.94" x2="531.6" y2="47.94" stroke="#857b7b" stroke-width="0.95"/>
<line x1="517.3" y1="57.11" x2="531.6" y2="57.11" stroke="#857b7b" stroke-width="0.95"/>
<line x1="517.3" y1="66.28" x2="531.6" y2="66.28" stroke="#857b7b" stroke-width="0.95"/>
<line x1="517.3" y1="75.45" x2="531.6" y2="75.45" stroke="#857b7b" stroke-width="0.95"/>
<line x1="517.3" y1="84.62" x2="531.6" y2="84.62" stroke="#857b7b" stroke-width="0.95"/>
<line x1="517.3" y1="93.79" x2="531.6" y2="93.79" stroke="#857b7b" stroke-width="0.95"/>
<line x1="517.3" y1="102.96" x2="531.6" y2="102.96" stroke="#857b7b" stroke-width="0.95"/>
<line x1="517.3" y1="112.13" x2="531.6" y2="112.13" stroke="#857b7b" stroke-width="0.95"/>
<line x1="517.3" y1="121.3" x2="531.6" y2="121.3" stroke="#a8a0a0" stroke-width="0.95"/>
<line x1="524.45" y1="29.6" x2="524.45" y2="35.07" stroke="#1478c0" stroke-width="1.8"/>
<path d="M522.35,34.47 L524.45,38.37 L526.55,34.47 L524.45,35.37 Z" fill="#0e9ae8" stroke="#1a6fae" stroke-width="0.25"/>
<line x1="524.45" y1="38.77" x2="524.45" y2="44.24" stroke="#1478c0" stroke-width="1.8"/>
<path d="M522.35,43.64 L524.45,47.54 L526.55,43.64 L524.45,44.54 Z" fill="#0e9ae8" stroke="#1a6fae" stroke-width="0.25"/>
<line x1="524.45" y1="47.94" x2="524.45" y2="53.41" stroke="#1478c0" stroke-width="1.8"/>
<path d="M522.35,52.81 L524.45,56.71 L526.55,52.81 L524.45,53.71 Z" fill="#0e9ae8" stroke="#1a6fae" stroke-width="0.25"/>
<line x1="524.45" y1="57.11" x2="524.45" y2="62.58" stroke="#1478c0" stroke-width="1.8"/>
<path d="M522.35,61.98 L524.45,65.88 L526.55,61.98 L524.45,62.88 Z" fill="#0e9ae8" stroke="#1a6fae" stroke-width="0.25"/>
<line x1="524.45" y1="66.28" x2="524.45" y2="71.75" stroke="#1478c0" stroke-width="1.8"/>
<path d="M522.35,71.15 L524.45,75.05 L526.55,71.15 L524.45,72.05 Z" fill="#0e9ae8" stroke="#1a6fae" stroke-width="0.25"/>
<line x1="524.45" y1="84.62" x2="524.45" y2="90.09" stroke="#1478c0" stroke-width="1.8"/>
<path d="M522.35,89.49 L524.45,93.39 L526.55,89.49 L524.45,90.39 Z" fill="#0e9ae8" stroke="#1a6fae" stroke-width="0.25"/>
<line x1="524.45" y1="93.79" x2="524.45" y2="99.26" stroke="#1478c0" stroke-width="1.8"/>
<path d="M522.35,98.66 L524.45,102.56 L526.55,98.66 L524.45,99.56 Z" fill="#0e9ae8" stroke="#1a6fae" stroke-width="0.25"/>
<line x1="524.45" y1="102.96" x2="524.45" y2="108.43" stroke="#1478c0" stroke-width="1.8"/>
<path d="M522.35,107.83 L524.45,111.73 L526.55,107.83 L524.45,108.73 Z" fill="#0e9ae8" stroke="#1a6fae" stroke-width="0.25"/>
<line x1="524.45" y1="112.13" x2="524.45" y2="117.6" stroke="#1478c0" stroke-width="1.8"/>
<path d="M522.35,117 L524.45,120.9 L526.55,117 L524.45,117.9 Z" fill="#0e9ae8" stroke="#1a6fae" stroke-width="0.25"/>
<rect x="540.6" y="75.45" width="14.1" height="9.17" fill="#c8c8c8"/>
<line x1="540.6" y1="29.6" x2="540.6" y2="121.3" stroke="#b4acac" stroke-width="0.9"/>
<line x1="554.7" y1="29.6" x2="554.7" y2="121.3" stroke="#b4acac" stroke-width="0.9"/>
<line x1="540.6" y1="29.6" x2="554.7" y2="29.6" stroke="#a8a0a0" stroke-width="0.95"/>
<line x1="540.6" y1="38.77" x2="554.7" y2="38.77" stroke="#857b7b" stroke-width="0.95"/>
<line x1="540.6" y1="47.94" x2="554.7" y2="47.94" stroke="#857b7b" stroke-width="0.95"/>
<line x1="540.6" y1="57.11" x2="554.7" y2="57.11" stroke="#857b7b" stroke-width="0.95"/>
<line x1="540.6" y1="66.28" x2="554.7" y2="66.28" stroke="#857b7b" stroke-width="0.95"/>
<line x1="540.6" y1="75.45" x2="554.7" y2="75.45" stroke="#857b7b" stroke-width="0.95"/>
<line x1="540.6" y1="84.62" x2="554.7" y2="84.62" stroke="#857b7b" stroke-width="0.95"/>
<line x1="540.6" y1="93.79" x2="554.7" y2="93.79" stroke="#857b7b" stroke-width="0.95"/>
<line x1="540.6" y1="102.96" x2="554.7" y2="102.96" stroke="#857b7b" stroke-width="0.95"/>
<line x1="540.6" y1="112.13" x2="554.7" y2="112.13" stroke="#857b7b" stroke-width="0.95"/>
<line x1="540.6" y1="121.3" x2="554.7" y2="121.3" stroke="#a8a0a0" stroke-width="0.95"/>
<line x1="547.65" y1="38.77" x2="547.65" y2="33.9" stroke="#b80f25" stroke-width="1.8"/>
<path d="M545.55,34.5 L547.65,30.6 L549.75,34.5 L547.65,33.6 Z" fill="#e5061c"/>
<line x1="547.65" y1="38.77" x2="547.65" y2="44.24" stroke="#1478c0" stroke-width="1.8"/>
<path d="M545.55,43.64 L547.65,47.54 L549.75,43.64 L547.65,44.54 Z" fill="#0e9ae8" stroke="#1a6fae" stroke-width="0.25"/>
<line x1="547.65" y1="57.11" x2="547.65" y2="52.24" stroke="#b80f25" stroke-width="1.8"/>
<path d="M545.55,52.84 L547.65,48.94 L549.75,52.84 L547.65,51.94 Z" fill="#e5061c"/>
<line x1="547.65" y1="57.11" x2="547.65" y2="62.58" stroke="#1478c0" stroke-width="1.8"/>
<path d="M545.55,61.98 L547.65,65.88 L549.75,61.98 L547.65,62.88 Z" fill="#0e9ae8" stroke="#1a6fae" stroke-width="0.25"/>
<line x1="547.65" y1="66.28" x2="547.65" y2="71.75" stroke="#1478c0" stroke-width="1.8"/>
<path d="M545.55,71.15 L547.65,75.05 L549.75,71.15 L547.65,72.05 Z" fill="#0e9ae8" stroke="#1a6fae" stroke-width="0.25"/>
<line x1="547.65" y1="84.62" x2="547.65" y2="90.09" stroke="#1478c0" stroke-width="1.8"/>
<path d="M545.55,89.49 L547.65,93.39 L549.75,89.49 L547.65,90.39 Z" fill="#0e9ae8" stroke="#1a6fae" stroke-width="0.25"/>
<line x1="547.65" y1="102.96" x2="547.65" y2="98.09" stroke="#b80f25" stroke-width="1.8"/>
<path d="M545.55,98.69 L547.65,94.79 L549.75,98.69 L547.65,97.79 Z" fill="#e5061c"/>
<line x1="547.65" y1="102.96" x2="547.65" y2="108.43" stroke="#1478c0" stroke-width="1.8"/>
<path d="M545.55,107.83 L547.65,111.73 L549.75,107.83 L547.65,108.73 Z" fill="#0e9ae8" stroke="#1a6fae" stroke-width="0.25"/>
<line x1="547.65" y1="121.3" x2="547.65" y2="116.43" stroke="#b80f25" stroke-width="1.8"/>
<path d="M545.55,117.03 L547.65,113.13 L549.75,117.03 L547.65,116.13 Z" fill="#e5061c"/>
<rect x="573.8" y="75.45" width="14.4" height="9.17" fill="#c8c8c8"/>
<line x1="573.8" y1="29.6" x2="573.8" y2="121.3" stroke="#b4acac" stroke-width="0.9"/>
<line x1="588.2" y1="29.6" x2="588.2" y2="121.3" stroke="#b4acac" stroke-width="0.9"/>
<line x1="573.8" y1="29.6" x2="588.2" y2="29.6" stroke="#a8a0a0" stroke-width="0.95"/>
<line x1="573.8" y1="38.77" x2="588.2" y2="38.77" stroke="#857b7b" stroke-width="0.95"/>
<line x1="573.8" y1="47.94" x2="588.2" y2="47.94" stroke="#857b7b" stroke-width="0.95"/>
<line x1="573.8" y1="57.11" x2="588.2" y2="57.11" stroke="#857b7b" stroke-width="0.95"/>
<line x1="573.8" y1="66.28" x2="588.2" y2="66.28" stroke="#857b7b" stroke-width="0.95"/>
<line x1="573.8" y1="75.45" x2="588.2" y2="75.45" stroke="#857b7b" stroke-width="0.95"/>
<line x1="573.8" y1="84.62" x2="588.2" y2="84.62" stroke="#857b7b" stroke-width="0.95"/>
<line x1="573.8" y1="93.79" x2="588.2" y2="93.79" stroke="#857b7b" stroke-width="0.95"/>
<line x1="573.8" y1="102.96" x2="588.2" y2="102.96" stroke="#857b7b" stroke-width="0.95"/>
<line x1="573.8" y1="112.13" x2="588.2" y2="112.13" stroke="#857b7b" stroke-width="0.95"/>
<line x1="573.8" y1="121.3" x2="588.2" y2="121.3" stroke="#a8a0a0" stroke-width="0.95"/>
<line x1="581" y1="38.77" x2="581" y2="33.9" stroke="#b80f25" stroke-width="1.8"/>
<path d="M578.9,34.5 L581,30.6 L583.1,34.5 L581,33.6 Z" fill="#e5061c"/>
<line x1="581" y1="38.77" x2="581" y2="44.24" stroke="#1478c0" stroke-width="1.8"/>
<path d="M578.9,43.64 L581,47.54 L583.1,43.64 L581,44.54 Z" fill="#0e9ae8" stroke="#1a6fae" stroke-width="0.25"/>
<line x1="581" y1="57.11" x2="581" y2="52.24" stroke="#b80f25" stroke-width="1.8"/>
<path d="M578.9,52.84 L581,48.94 L583.1,52.84 L581,51.94 Z" fill="#e5061c"/>
<line x1="581" y1="57.11" x2="581" y2="62.58" stroke="#1478c0" stroke-width="1.8"/>
<path d="M578.9,61.98 L581,65.88 L583.1,61.98 L581,62.88 Z" fill="#0e9ae8" stroke="#1a6fae" stroke-width="0.25"/>
<rect x="574.1" y="66.78" width="13.8" height="8.17" fill="#fff" stroke="#f5a0aa" stroke-width="1.1"/>
<line x1="583.6" y1="74.05" x2="580.8" y2="70.25" stroke="#d80a22" stroke-width="1.7"/>
<path d="M582.49,69.01 L578.9,67.68 L579.11,71.5 Z" fill="#e5061c"/>
<line x1="581" y1="84.62" x2="581" y2="90.09" stroke="#1478c0" stroke-width="1.8"/>
<path d="M578.9,89.49 L581,93.39 L583.1,89.49 L581,90.39 Z" fill="#0e9ae8" stroke="#1a6fae" stroke-width="0.25"/>
<line x1="581" y1="102.96" x2="581" y2="98.09" stroke="#b80f25" stroke-width="1.8"/>
<path d="M578.9,98.69 L581,94.79 L583.1,98.69 L581,97.79 Z" fill="#e5061c"/>
<line x1="581" y1="102.96" x2="581" y2="108.43" stroke="#1478c0" stroke-width="1.8"/>
<path d="M578.9,107.83 L581,111.73 L583.1,107.83 L581,108.73 Z" fill="#0e9ae8" stroke="#1a6fae" stroke-width="0.25"/>
<line x1="581" y1="121.3" x2="581" y2="116.43" stroke="#b80f25" stroke-width="1.8"/>
<path d="M578.9,117.03 L581,113.13 L583.1,117.03 L581,116.13 Z" fill="#e5061c"/>
<rect x="597" y="75.45" width="14.3" height="9.17" fill="#c8c8c8"/>
<line x1="597" y1="29.6" x2="597" y2="121.3" stroke="#b4acac" stroke-width="0.9"/>
<line x1="611.3" y1="29.6" x2="611.3" y2="121.3" stroke="#b4acac" stroke-width="0.9"/>
<line x1="597" y1="29.6" x2="611.3" y2="29.6" stroke="#a8a0a0" stroke-width="0.95"/>
<line x1="597" y1="38.77" x2="611.3" y2="38.77" stroke="#857b7b" stroke-width="0.95"/>
<line x1="597" y1="47.94" x2="611.3" y2="47.94" stroke="#857b7b" stroke-width="0.95"/>
<line x1="597" y1="57.11" x2="611.3" y2="57.11" stroke="#857b7b" stroke-width="0.95"/>
<line x1="597" y1="66.28" x2="611.3" y2="66.28" stroke="#857b7b" stroke-width="0.95"/>
<line x1="597" y1="75.45" x2="611.3" y2="75.45" stroke="#857b7b" stroke-width="0.95"/>
<line x1="597" y1="84.62" x2="611.3" y2="84.62" stroke="#857b7b" stroke-width="0.95"/>
<line x1="597" y1="93.79" x2="611.3" y2="93.79" stroke="#857b7b" stroke-width="0.95"/>
<line x1="597" y1="102.96" x2="611.3" y2="102.96" stroke="#857b7b" stroke-width="0.95"/>
<line x1="597" y1="112.13" x2="611.3" y2="112.13" stroke="#857b7b" stroke-width="0.95"/>
<line x1="597" y1="121.3" x2="611.3" y2="121.3" stroke="#a8a0a0" stroke-width="0.95"/>
<line x1="604.15" y1="38.77" x2="604.15" y2="33.9" stroke="#b80f25" stroke-width="1.8"/>
<path d="M602.05,34.5 L604.15,30.6 L606.25,34.5 L604.15,33.6 Z" fill="#e5061c"/>
<line x1="604.15" y1="38.77" x2="604.15" y2="44.24" stroke="#1478c0" stroke-width="1.8"/>
<path d="M602.05,43.64 L604.15,47.54 L606.25,43.64 L604.15,44.54 Z" fill="#0e9ae8" stroke="#1a6fae" stroke-width="0.25"/>
<line x1="604.15" y1="57.11" x2="604.15" y2="52.24" stroke="#b80f25" stroke-width="1.8"/>
<path d="M602.05,52.84 L604.15,48.94 L606.25,52.84 L604.15,51.94 Z" fill="#e5061c"/>
<line x1="604.15" y1="57.11" x2="604.15" y2="62.58" stroke="#1478c0" stroke-width="1.8"/>
<path d="M602.05,61.98 L604.15,65.88 L606.25,61.98 L604.15,62.88 Z" fill="#0e9ae8" stroke="#1a6fae" stroke-width="0.25"/>
<line x1="604.15" y1="75.45" x2="604.15" y2="70.58" stroke="#b80f25" stroke-width="1.8"/>
<path d="M602.05,71.18 L604.15,67.28 L606.25,71.18 L604.15,70.28 Z" fill="#e5061c"/>
<line x1="604.15" y1="84.62" x2="604.15" y2="90.09" stroke="#1478c0" stroke-width="1.8"/>
<path d="M602.05,89.49 L604.15,93.39 L606.25,89.49 L604.15,90.39 Z" fill="#0e9ae8" stroke="#1a6fae" stroke-width="0.25"/>
<line x1="604.15" y1="102.96" x2="604.15" y2="98.09" stroke="#b80f25" stroke-width="1.8"/>
<path d="M602.05,98.69 L604.15,94.79 L606.25,98.69 L604.15,97.79 Z" fill="#e5061c"/>
<line x1="604.15" y1="102.96" x2="604.15" y2="108.43" stroke="#1478c0" stroke-width="1.8"/>
<path d="M602.05,107.83 L604.15,111.73 L606.25,107.83 L604.15,108.73 Z" fill="#0e9ae8" stroke="#1a6fae" stroke-width="0.25"/>
<line x1="604.15" y1="121.3" x2="604.15" y2="116.43" stroke="#b80f25" stroke-width="1.8"/>
<path d="M602.05,117.03 L604.15,113.13 L606.25,117.03 L604.15,116.13 Z" fill="#e5061c"/>
<rect x="620.4" y="75.45" width="14.2" height="9.17" fill="#c8c8c8"/>
<line x1="620.4" y1="29.6" x2="620.4" y2="121.3" stroke="#b4acac" stroke-width="0.9"/>
<line x1="634.6" y1="29.6" x2="634.6" y2="121.3" stroke="#b4acac" stroke-width="0.9"/>
<line x1="620.4" y1="29.6" x2="634.6" y2="29.6" stroke="#a8a0a0" stroke-width="0.95"/>
<line x1="620.4" y1="38.77" x2="634.6" y2="38.77" stroke="#857b7b" stroke-width="0.95"/>
<line x1="620.4" y1="47.94" x2="634.6" y2="47.94" stroke="#857b7b" stroke-width="0.95"/>
<line x1="620.4" y1="57.11" x2="634.6" y2="57.11" stroke="#857b7b" stroke-width="0.95"/>
<line x1="620.4" y1="66.28" x2="634.6" y2="66.28" stroke="#857b7b" stroke-width="0.95"/>
<line x1="620.4" y1="75.45" x2="634.6" y2="75.45" stroke="#857b7b" stroke-width="0.95"/>
<line x1="620.4" y1="84.62" x2="634.6" y2="84.62" stroke="#857b7b" stroke-width="0.95"/>
<line x1="620.4" y1="93.79" x2="634.6" y2="93.79" stroke="#857b7b" stroke-width="0.95"/>
<line x1="620.4" y1="102.96" x2="634.6" y2="102.96" stroke="#857b7b" stroke-width="0.95"/>
<line x1="620.4" y1="112.13" x2="634.6" y2="112.13" stroke="#857b7b" stroke-width="0.95"/>
<line x1="620.4" y1="121.3" x2="634.6" y2="121.3" stroke="#a8a0a0" stroke-width="0.95"/>
<line x1="627.5" y1="38.77" x2="627.5" y2="33.9" stroke="#b80f25" stroke-width="1.8"/>
<path d="M625.4,34.5 L627.5,30.6 L629.6,34.5 L627.5,33.6 Z" fill="#e5061c"/>
<line x1="627.5" y1="38.77" x2="627.5" y2="44.24" stroke="#1478c0" stroke-width="1.8"/>
<path d="M625.4,43.64 L627.5,47.54 L629.6,43.64 L627.5,44.54 Z" fill="#0e9ae8" stroke="#1a6fae" stroke-width="0.25"/>
<line x1="627.5" y1="57.11" x2="627.5" y2="52.24" stroke="#b80f25" stroke-width="1.8"/>
<path d="M625.4,52.84 L627.5,48.94 L629.6,52.84 L627.5,51.94 Z" fill="#e5061c"/>
<line x1="627.5" y1="57.11" x2="627.5" y2="62.58" stroke="#1478c0" stroke-width="1.8"/>
<path d="M625.4,61.98 L627.5,65.88 L629.6,61.98 L627.5,62.88 Z" fill="#0e9ae8" stroke="#1a6fae" stroke-width="0.25"/>
<line x1="627.5" y1="75.45" x2="627.5" y2="70.58" stroke="#b80f25" stroke-width="1.8"/>
<path d="M625.4,71.18 L627.5,67.28 L629.6,71.18 L627.5,70.28 Z" fill="#e5061c"/>
<rect x="620.7" y="85.12" width="13.6" height="8.17" fill="#fff" stroke="#f5a0aa" stroke-width="1.1"/>
<line x1="630.1" y1="92.39" x2="627.3" y2="88.59" stroke="#d80a22" stroke-width="1.7"/>
<path d="M628.99,87.35 L625.4,86.02 L625.61,89.84 Z" fill="#e5061c"/>
<line x1="627.5" y1="102.96" x2="627.5" y2="98.09" stroke="#b80f25" stroke-width="1.8"/>
<path d="M625.4,98.69 L627.5,94.79 L629.6,98.69 L627.5,97.79 Z" fill="#e5061c"/>
<line x1="627.5" y1="102.96" x2="627.5" y2="108.43" stroke="#1478c0" stroke-width="1.8"/>
<path d="M625.4,107.83 L627.5,111.73 L629.6,107.83 L627.5,108.73 Z" fill="#0e9ae8" stroke="#1a6fae" stroke-width="0.25"/>
<line x1="627.5" y1="121.3" x2="627.5" y2="116.43" stroke="#b80f25" stroke-width="1.8"/>
<path d="M625.4,117.03 L627.5,113.13 L629.6,117.03 L627.5,116.13 Z" fill="#e5061c"/>
<rect x="644.3" y="75.45" width="14.2" height="9.17" fill="#c8c8c8"/>
<line x1="644.3" y1="29.6" x2="644.3" y2="121.3" stroke="#b4acac" stroke-width="0.9"/>
<line x1="658.5" y1="29.6" x2="658.5" y2="121.3" stroke="#b4acac" stroke-width="0.9"/>
<line x1="644.3" y1="29.6" x2="658.5" y2="29.6" stroke="#a8a0a0" stroke-width="0.95"/>
<line x1="644.3" y1="38.77" x2="658.5" y2="38.77" stroke="#857b7b" stroke-width="0.95"/>
<line x1="644.3" y1="47.94" x2="658.5" y2="47.94" stroke="#857b7b" stroke-width="0.95"/>
<line x1="644.3" y1="57.11" x2="658.5" y2="57.11" stroke="#857b7b" stroke-width="0.95"/>
<line x1="644.3" y1="66.28" x2="658.5" y2="66.28" stroke="#857b7b" stroke-width="0.95"/>
<line x1="644.3" y1="75.45" x2="658.5" y2="75.45" stroke="#857b7b" stroke-width="0.95"/>
<line x1="644.3" y1="84.62" x2="658.5" y2="84.62" stroke="#857b7b" stroke-width="0.95"/>
<line x1="644.3" y1="93.79" x2="658.5" y2="93.79" stroke="#857b7b" stroke-width="0.95"/>
<line x1="644.3" y1="102.96" x2="658.5" y2="102.96" stroke="#857b7b" stroke-width="0.95"/>
<line x1="644.3" y1="112.13" x2="658.5" y2="112.13" stroke="#857b7b" stroke-width="0.95"/>
<line x1="644.3" y1="121.3" x2="658.5" y2="121.3" stroke="#a8a0a0" stroke-width="0.95"/>
<line x1="651.4" y1="38.77" x2="651.4" y2="33.9" stroke="#b80f25" stroke-width="1.8"/>
<path d="M649.3,34.5 L651.4,30.6 L653.5,34.5 L651.4,33.6 Z" fill="#e5061c"/>
<line x1="651.4" y1="38.77" x2="651.4" y2="44.24" stroke="#1478c0" stroke-width="1.8"/>
<path d="M649.3,43.64 L651.4,47.54 L653.5,43.64 L651.4,44.54 Z" fill="#0e9ae8" stroke="#1a6fae" stroke-width="0.25"/>
<line x1="651.4" y1="57.11" x2="651.4" y2="52.24" stroke="#b80f25" stroke-width="1.8"/>
<path d="M649.3,52.84 L651.4,48.94 L653.5,52.84 L651.4,51.94 Z" fill="#e5061c"/>
<line x1="651.4" y1="57.11" x2="651.4" y2="62.58" stroke="#1478c0" stroke-width="1.8"/>
<path d="M649.3,61.98 L651.4,65.88 L653.5,61.98 L651.4,62.88 Z" fill="#0e9ae8" stroke="#1a6fae" stroke-width="0.25"/>
<line x1="651.4" y1="75.45" x2="651.4" y2="70.58" stroke="#b80f25" stroke-width="1.8"/>
<path d="M649.3,71.18 L651.4,67.28 L653.5,71.18 L651.4,70.28 Z" fill="#e5061c"/>
<line x1="651.4" y1="93.79" x2="651.4" y2="88.92" stroke="#b80f25" stroke-width="1.8"/>
<path d="M649.3,89.52 L651.4,85.62 L653.5,89.52 L651.4,88.62 Z" fill="#e5061c"/>
<line x1="651.4" y1="93.79" x2="651.4" y2="99.26" stroke="#1478c0" stroke-width="1.8"/>
<path d="M649.3,98.66 L651.4,102.56 L653.5,98.66 L651.4,99.56 Z" fill="#0e9ae8" stroke="#1a6fae" stroke-width="0.25"/>
<line x1="651.4" y1="112.13" x2="651.4" y2="107.26" stroke="#b80f25" stroke-width="1.8"/>
<path d="M649.3,107.86 L651.4,103.96 L653.5,107.86 L651.4,106.96 Z" fill="#e5061c"/>
<line x1="651.4" y1="112.13" x2="651.4" y2="117.6" stroke="#1478c0" stroke-width="1.8"/>
<path d="M649.3,117 L651.4,120.9 L653.5,117 L651.4,117.9 Z" fill="#0e9ae8" stroke="#1a6fae" stroke-width="0.25"/>
<rect x="669.2" y="75.45" width="14.1" height="9.17" fill="#c8c8c8"/>
<line x1="669.2" y1="29.6" x2="669.2" y2="121.3" stroke="#b4acac" stroke-width="0.9"/>
<line x1="683.3" y1="29.6" x2="683.3" y2="121.3" stroke="#b4acac" stroke-width="0.9"/>
<line x1="669.2" y1="29.6" x2="683.3" y2="29.6" stroke="#a8a0a0" stroke-width="0.95"/>
<line x1="669.2" y1="38.77" x2="683.3" y2="38.77" stroke="#857b7b" stroke-width="0.95"/>
<line x1="669.2" y1="47.94" x2="683.3" y2="47.94" stroke="#857b7b" stroke-width="0.95"/>
<line x1="669.2" y1="57.11" x2="683.3" y2="57.11" stroke="#857b7b" stroke-width="0.95"/>
<line x1="669.2" y1="66.28" x2="683.3" y2="66.28" stroke="#857b7b" stroke-width="0.95"/>
<line x1="669.2" y1="75.45" x2="683.3" y2="75.45" stroke="#857b7b" stroke-width="0.95"/>
<line x1="669.2" y1="84.62" x2="683.3" y2="84.62" stroke="#857b7b" stroke-width="0.95"/>
<line x1="669.2" y1="93.79" x2="683.3" y2="93.79" stroke="#857b7b" stroke-width="0.95"/>
<line x1="669.2" y1="102.96" x2="683.3" y2="102.96" stroke="#857b7b" stroke-width="0.95"/>
<line x1="669.2" y1="112.13" x2="683.3" y2="112.13" stroke="#857b7b" stroke-width="0.95"/>
<line x1="669.2" y1="121.3" x2="683.3" y2="121.3" stroke="#a8a0a0" stroke-width="0.95"/>
<line x1="676.25" y1="38.77" x2="676.25" y2="33.9" stroke="#b80f25" stroke-width="1.8"/>
<path d="M674.15,34.5 L676.25,30.6 L678.35,34.5 L676.25,33.6 Z" fill="#e5061c"/>
<line x1="676.25" y1="47.94" x2="676.25" y2="43.07" stroke="#b80f25" stroke-width="1.8"/>
<path d="M674.15,43.67 L676.25,39.77 L678.35,43.67 L676.25,42.77 Z" fill="#e5061c"/>
<line x1="676.25" y1="57.11" x2="676.25" y2="52.24" stroke="#b80f25" stroke-width="1.8"/>
<path d="M674.15,52.84 L676.25,48.94 L678.35,52.84 L676.25,51.94 Z" fill="#e5061c"/>
<line x1="676.25" y1="66.28" x2="676.25" y2="61.41" stroke="#b80f25" stroke-width="1.8"/>
<path d="M674.15,62.01 L676.25,58.11 L678.35,62.01 L676.25,61.11 Z" fill="#e5061c"/>
<line x1="676.25" y1="75.45" x2="676.25" y2="70.58" stroke="#b80f25" stroke-width="1.8"/>
<path d="M674.15,71.18 L676.25,67.28 L678.35,71.18 L676.25,70.28 Z" fill="#e5061c"/>
<line x1="676.25" y1="93.79" x2="676.25" y2="88.92" stroke="#b80f25" stroke-width="1.8"/>
<path d="M674.15,89.52 L676.25,85.62 L678.35,89.52 L676.25,88.62 Z" fill="#e5061c"/>
<line x1="676.25" y1="102.96" x2="676.25" y2="98.09" stroke="#b80f25" stroke-width="1.8"/>
<path d="M674.15,98.69 L676.25,94.79 L678.35,98.69 L676.25,97.79 Z" fill="#e5061c"/>
<line x1="676.25" y1="112.13" x2="676.25" y2="107.26" stroke="#b80f25" stroke-width="1.8"/>
<path d="M674.15,107.86 L676.25,103.96 L678.35,107.86 L676.25,106.96 Z" fill="#e5061c"/>
<line x1="676.25" y1="121.3" x2="676.25" y2="116.43" stroke="#b80f25" stroke-width="1.8"/>
<path d="M674.15,117.03 L676.25,113.13 L678.35,117.03 L676.25,116.13 Z" fill="#e5061c"/>
<rect x="518.1" y="221.25" width="14.1" height="9.17" fill="#c8c8c8"/>
<line x1="518.1" y1="175.4" x2="518.1" y2="267.1" stroke="#b4acac" stroke-width="0.9"/>
<line x1="532.2" y1="175.4" x2="532.2" y2="267.1" stroke="#b4acac" stroke-width="0.9"/>
<line x1="518.1" y1="175.4" x2="532.2" y2="175.4" stroke="#a8a0a0" stroke-width="0.95"/>
<line x1="518.1" y1="184.57" x2="532.2" y2="184.57" stroke="#857b7b" stroke-width="0.95"/>
<line x1="518.1" y1="193.74" x2="532.2" y2="193.74" stroke="#857b7b" stroke-width="0.95"/>
<line x1="518.1" y1="202.91" x2="532.2" y2="202.91" stroke="#857b7b" stroke-width="0.95"/>
<line x1="518.1" y1="212.08" x2="532.2" y2="212.08" stroke="#857b7b" stroke-width="0.95"/>
<line x1="518.1" y1="221.25" x2="532.2" y2="221.25" stroke="#857b7b" stroke-width="0.95"/>
<line x1="518.1" y1="230.42" x2="532.2" y2="230.42" stroke="#857b7b" stroke-width="0.95"/>
<line x1="518.1" y1="239.59" x2="532.2" y2="239.59" stroke="#857b7b" stroke-width="0.95"/>
<line x1="518.1" y1="248.76" x2="532.2" y2="248.76" stroke="#857b7b" stroke-width="0.95"/>
<line x1="518.1" y1="257.93" x2="532.2" y2="257.93" stroke="#857b7b" stroke-width="0.95"/>
<line x1="518.1" y1="267.1" x2="532.2" y2="267.1" stroke="#a8a0a0" stroke-width="0.95"/>
<line x1="525.15" y1="175.4" x2="525.15" y2="180.87" stroke="#1478c0" stroke-width="1.8"/>
<path d="M523.05,180.27 L525.15,184.17 L527.25,180.27 L525.15,181.17 Z" fill="#0e9ae8" stroke="#1a6fae" stroke-width="0.25"/>
<line x1="525.15" y1="184.57" x2="525.15" y2="190.04" stroke="#1478c0" stroke-width="1.8"/>
<path d="M523.05,189.44 L525.15,193.34 L527.25,189.44 L525.15,190.34 Z" fill="#0e9ae8" stroke="#1a6fae" stroke-width="0.25"/>
<line x1="525.15" y1="193.74" x2="525.15" y2="199.21" stroke="#1478c0" stroke-width="1.8"/>
<path d="M523.05,198.61 L525.15,202.51 L527.25,198.61 L525.15,199.51 Z" fill="#0e9ae8" stroke="#1a6fae" stroke-width="0.25"/>
<line x1="525.15" y1="202.91" x2="525.15" y2="208.38" stroke="#1478c0" stroke-width="1.8"/>
<path d="M523.05,207.78 L525.15,211.68 L527.25,207.78 L525.15,208.68 Z" fill="#0e9ae8" stroke="#1a6fae" stroke-width="0.25"/>
<line x1="525.15" y1="212.08" x2="525.15" y2="217.55" stroke="#1478c0" stroke-width="1.8"/>
<path d="M523.05,216.95 L525.15,220.85 L527.25,216.95 L525.15,217.85 Z" fill="#0e9ae8" stroke="#1a6fae" stroke-width="0.25"/>
<line x1="525.15" y1="230.42" x2="525.15" y2="235.89" stroke="#1478c0" stroke-width="1.8"/>
<path d="M523.05,235.29 L525.15,239.19 L527.25,235.29 L525.15,236.19 Z" fill="#0e9ae8" stroke="#1a6fae" stroke-width="0.25"/>
<line x1="525.15" y1="239.59" x2="525.15" y2="245.06" stroke="#1478c0" stroke-width="1.8"/>
<path d="M523.05,244.46 L525.15,248.36 L527.25,244.46 L525.15,245.36 Z" fill="#0e9ae8" stroke="#1a6fae" stroke-width="0.25"/>
<line x1="525.15" y1="248.76" x2="525.15" y2="254.23" stroke="#1478c0" stroke-width="1.8"/>
<path d="M523.05,253.63 L525.15,257.53 L527.25,253.63 L525.15,254.53 Z" fill="#0e9ae8" stroke="#1a6fae" stroke-width="0.25"/>
<line x1="525.15" y1="257.93" x2="525.15" y2="263.4" stroke="#1478c0" stroke-width="1.8"/>
<path d="M523.05,262.8 L525.15,266.7 L527.25,262.8 L525.15,263.7 Z" fill="#0e9ae8" stroke="#1a6fae" stroke-width="0.25"/>
<rect x="541.5" y="221.25" width="14.1" height="9.17" fill="#c8c8c8"/>
<line x1="541.5" y1="175.4" x2="541.5" y2="267.1" stroke="#b4acac" stroke-width="0.9"/>
<line x1="555.6" y1="175.4" x2="555.6" y2="267.1" stroke="#b4acac" stroke-width="0.9"/>
<line x1="541.5" y1="175.4" x2="555.6" y2="175.4" stroke="#a8a0a0" stroke-width="0.95"/>
<line x1="541.5" y1="184.57" x2="555.6" y2="184.57" stroke="#857b7b" stroke-width="0.95"/>
<line x1="541.5" y1="193.74" x2="555.6" y2="193.74" stroke="#857b7b" stroke-width="0.95"/>
<line x1="541.5" y1="202.91" x2="555.6" y2="202.91" stroke="#857b7b" stroke-width="0.95"/>
<line x1="541.5" y1="212.08" x2="555.6" y2="212.08" stroke="#857b7b" stroke-width="0.95"/>
<line x1="541.5" y1="221.25" x2="555.6" y2="221.25" stroke="#857b7b" stroke-width="0.95"/>
<line x1="541.5" y1="230.42" x2="555.6" y2="230.42" stroke="#857b7b" stroke-width="0.95"/>
<line x1="541.5" y1="239.59" x2="555.6" y2="239.59" stroke="#857b7b" stroke-width="0.95"/>
<line x1="541.5" y1="248.76" x2="555.6" y2="248.76" stroke="#857b7b" stroke-width="0.95"/>
<line x1="541.5" y1="257.93" x2="555.6" y2="257.93" stroke="#857b7b" stroke-width="0.95"/>
<line x1="541.5" y1="267.1" x2="555.6" y2="267.1" stroke="#a8a0a0" stroke-width="0.95"/>
<line x1="548.55" y1="175.4" x2="548.55" y2="180.87" stroke="#1478c0" stroke-width="1.8"/>
<path d="M546.45,180.27 L548.55,184.17 L550.65,180.27 L548.55,181.17 Z" fill="#0e9ae8" stroke="#1a6fae" stroke-width="0.25"/>
<line x1="548.55" y1="193.74" x2="548.55" y2="188.87" stroke="#b80f25" stroke-width="1.8"/>
<path d="M546.45,189.47 L548.55,185.57 L550.65,189.47 L548.55,188.57 Z" fill="#e5061c"/>
<line x1="548.55" y1="193.74" x2="548.55" y2="199.21" stroke="#1478c0" stroke-width="1.8"/>
<path d="M546.45,198.61 L548.55,202.51 L550.65,198.61 L548.55,199.51 Z" fill="#0e9ae8" stroke="#1a6fae" stroke-width="0.25"/>
<line x1="548.55" y1="212.08" x2="548.55" y2="207.21" stroke="#b80f25" stroke-width="1.8"/>
<path d="M546.45,207.81 L548.55,203.91 L550.65,207.81 L548.55,206.91 Z" fill="#e5061c"/>
<line x1="548.55" y1="212.08" x2="548.55" y2="217.55" stroke="#1478c0" stroke-width="1.8"/>
<path d="M546.45,216.95 L548.55,220.85 L550.65,216.95 L548.55,217.85 Z" fill="#0e9ae8" stroke="#1a6fae" stroke-width="0.25"/>
<line x1="548.55" y1="230.42" x2="548.55" y2="235.89" stroke="#1478c0" stroke-width="1.8"/>
<path d="M546.45,235.29 L548.55,239.19 L550.65,235.29 L548.55,236.19 Z" fill="#0e9ae8" stroke="#1a6fae" stroke-width="0.25"/>
<line x1="548.55" y1="248.76" x2="548.55" y2="243.89" stroke="#b80f25" stroke-width="1.8"/>
<path d="M546.45,244.49 L548.55,240.59 L550.65,244.49 L548.55,243.59 Z" fill="#e5061c"/>
<line x1="548.55" y1="248.76" x2="548.55" y2="254.23" stroke="#1478c0" stroke-width="1.8"/>
<path d="M546.45,253.63 L548.55,257.53 L550.65,253.63 L548.55,254.53 Z" fill="#0e9ae8" stroke="#1a6fae" stroke-width="0.25"/>
<line x1="548.55" y1="267.1" x2="548.55" y2="262.23" stroke="#b80f25" stroke-width="1.8"/>
<path d="M546.45,262.83 L548.55,258.93 L550.65,262.83 L548.55,261.93 Z" fill="#e5061c"/>
<rect x="565.3" y="221.25" width="14.4" height="9.17" fill="#c8c8c8"/>
<line x1="565.3" y1="175.4" x2="565.3" y2="267.1" stroke="#b4acac" stroke-width="0.9"/>
<line x1="579.7" y1="175.4" x2="579.7" y2="267.1" stroke="#b4acac" stroke-width="0.9"/>
<line x1="565.3" y1="175.4" x2="579.7" y2="175.4" stroke="#a8a0a0" stroke-width="0.95"/>
<line x1="565.3" y1="184.57" x2="579.7" y2="184.57" stroke="#857b7b" stroke-width="0.95"/>
<line x1="565.3" y1="193.74" x2="579.7" y2="193.74" stroke="#857b7b" stroke-width="0.95"/>
<line x1="565.3" y1="202.91" x2="579.7" y2="202.91" stroke="#857b7b" stroke-width="0.95"/>
<line x1="565.3" y1="212.08" x2="579.7" y2="212.08" stroke="#857b7b" stroke-width="0.95"/>
<line x1="565.3" y1="221.25" x2="579.7" y2="221.25" stroke="#857b7b" stroke-width="0.95"/>
<line x1="565.3" y1="230.42" x2="579.7" y2="230.42" stroke="#857b7b" stroke-width="0.95"/>
<line x1="565.3" y1="239.59" x2="579.7" y2="239.59" stroke="#857b7b" stroke-width="0.95"/>
<line x1="565.3" y1="248.76" x2="579.7" y2="248.76" stroke="#857b7b" stroke-width="0.95"/>
<line x1="565.3" y1="257.93" x2="579.7" y2="257.93" stroke="#857b7b" stroke-width="0.95"/>
<line x1="565.3" y1="267.1" x2="579.7" y2="267.1" stroke="#a8a0a0" stroke-width="0.95"/>
<line x1="572.5" y1="175.4" x2="572.5" y2="180.87" stroke="#1478c0" stroke-width="1.8"/>
<path d="M570.4,180.27 L572.5,184.17 L574.6,180.27 L572.5,181.17 Z" fill="#0e9ae8" stroke="#1a6fae" stroke-width="0.25"/>
<line x1="572.5" y1="193.74" x2="572.5" y2="188.87" stroke="#b80f25" stroke-width="1.8"/>
<path d="M570.4,189.47 L572.5,185.57 L574.6,189.47 L572.5,188.57 Z" fill="#e5061c"/>
<line x1="572.5" y1="193.74" x2="572.5" y2="199.21" stroke="#1478c0" stroke-width="1.8"/>
<path d="M570.4,198.61 L572.5,202.51 L574.6,198.61 L572.5,199.51 Z" fill="#0e9ae8" stroke="#1a6fae" stroke-width="0.25"/>
<line x1="572.5" y1="212.08" x2="572.5" y2="207.21" stroke="#b80f25" stroke-width="1.8"/>
<path d="M570.4,207.81 L572.5,203.91 L574.6,207.81 L572.5,206.91 Z" fill="#e5061c"/>
<line x1="572.5" y1="212.08" x2="572.5" y2="217.55" stroke="#1478c0" stroke-width="1.8"/>
<path d="M570.4,216.95 L572.5,220.85 L574.6,216.95 L572.5,217.85 Z" fill="#0e9ae8" stroke="#1a6fae" stroke-width="0.25"/>
<rect x="565.6" y="230.92" width="13.8" height="8.17" fill="#fff" stroke="#9ad6f4" stroke-width="1.1"/>
<line x1="570.4" y1="231.92" x2="573" y2="235.74" stroke="#1478c0" stroke-width="1.7"/>
<path d="M571.26,236.92 L574.8,238.39 L574.74,234.56 Z" fill="#0e9ae8"/>
<line x1="572.5" y1="239.59" x2="572.5" y2="245.06" stroke="#1478c0" stroke-width="1.8"/>
<path d="M570.4,244.46 L572.5,248.36 L574.6,244.46 L572.5,245.36 Z" fill="#0e9ae8" stroke="#1a6fae" stroke-width="0.25"/>
<line x1="572.5" y1="257.93" x2="572.5" y2="253.06" stroke="#b80f25" stroke-width="1.8"/>
<path d="M570.4,253.66 L572.5,249.76 L574.6,253.66 L572.5,252.76 Z" fill="#e5061c"/>
<line x1="572.5" y1="257.93" x2="572.5" y2="263.4" stroke="#1478c0" stroke-width="1.8"/>
<path d="M570.4,262.8 L572.5,266.7 L574.6,262.8 L572.5,263.7 Z" fill="#0e9ae8" stroke="#1a6fae" stroke-width="0.25"/>
<rect x="588.9" y="221.25" width="14" height="9.17" fill="#c8c8c8"/>
<line x1="588.9" y1="175.4" x2="588.9" y2="267.1" stroke="#b4acac" stroke-width="0.9"/>
<line x1="602.9" y1="175.4" x2="602.9" y2="267.1" stroke="#b4acac" stroke-width="0.9"/>
<line x1="588.9" y1="175.4" x2="602.9" y2="175.4" stroke="#a8a0a0" stroke-width="0.95"/>
<line x1="588.9" y1="184.57" x2="602.9" y2="184.57" stroke="#857b7b" stroke-width="0.95"/>
<line x1="588.9" y1="193.74" x2="602.9" y2="193.74" stroke="#857b7b" stroke-width="0.95"/>
<line x1="588.9" y1="202.91" x2="602.9" y2="202.91" stroke="#857b7b" stroke-width="0.95"/>
<line x1="588.9" y1="212.08" x2="602.9" y2="212.08" stroke="#857b7b" stroke-width="0.95"/>
<line x1="588.9" y1="221.25" x2="602.9" y2="221.25" stroke="#857b7b" stroke-width="0.95"/>
<line x1="588.9" y1="230.42" x2="602.9" y2="230.42" stroke="#857b7b" stroke-width="0.95"/>
<line x1="588.9" y1="239.59" x2="602.9" y2="239.59" stroke="#857b7b" stroke-width="0.95"/>
<line x1="588.9" y1="248.76" x2="602.9" y2="248.76" stroke="#857b7b" stroke-width="0.95"/>
<line x1="588.9" y1="257.93" x2="602.9" y2="257.93" stroke="#857b7b" stroke-width="0.95"/>
<line x1="588.9" y1="267.1" x2="602.9" y2="267.1" stroke="#a8a0a0" stroke-width="0.95"/>
<line x1="595.9" y1="175.4" x2="595.9" y2="180.87" stroke="#1478c0" stroke-width="1.8"/>
<path d="M593.8,180.27 L595.9,184.17 L598,180.27 L595.9,181.17 Z" fill="#0e9ae8" stroke="#1a6fae" stroke-width="0.25"/>
<line x1="595.9" y1="193.74" x2="595.9" y2="188.87" stroke="#b80f25" stroke-width="1.8"/>
<path d="M593.8,189.47 L595.9,185.57 L598,189.47 L595.9,188.57 Z" fill="#e5061c"/>
<line x1="595.9" y1="193.74" x2="595.9" y2="199.21" stroke="#1478c0" stroke-width="1.8"/>
<path d="M593.8,198.61 L595.9,202.51 L598,198.61 L595.9,199.51 Z" fill="#0e9ae8" stroke="#1a6fae" stroke-width="0.25"/>
<line x1="595.9" y1="212.08" x2="595.9" y2="207.21" stroke="#b80f25" stroke-width="1.8"/>
<path d="M593.8,207.81 L595.9,203.91 L598,207.81 L595.9,206.91 Z" fill="#e5061c"/>
<line x1="595.9" y1="212.08" x2="595.9" y2="217.55" stroke="#1478c0" stroke-width="1.8"/>
<path d="M593.8,216.95 L595.9,220.85 L598,216.95 L595.9,217.85 Z" fill="#0e9ae8" stroke="#1a6fae" stroke-width="0.25"/>
<line x1="595.9" y1="239.59" x2="595.9" y2="234.72" stroke="#b80f25" stroke-width="1.8"/>
<path d="M593.8,235.32 L595.9,231.42 L598,235.32 L595.9,234.42 Z" fill="#e5061c"/>
<line x1="595.9" y1="239.59" x2="595.9" y2="245.06" stroke="#1478c0" stroke-width="1.8"/>
<path d="M593.8,244.46 L595.9,248.36 L598,244.46 L595.9,245.36 Z" fill="#0e9ae8" stroke="#1a6fae" stroke-width="0.25"/>
<line x1="595.9" y1="257.93" x2="595.9" y2="253.06" stroke="#b80f25" stroke-width="1.8"/>
<path d="M593.8,253.66 L595.9,249.76 L598,253.66 L595.9,252.76 Z" fill="#e5061c"/>
<line x1="595.9" y1="257.93" x2="595.9" y2="263.4" stroke="#1478c0" stroke-width="1.8"/>
<path d="M593.8,262.8 L595.9,266.7 L598,262.8 L595.9,263.7 Z" fill="#0e9ae8" stroke="#1a6fae" stroke-width="0.25"/>
<rect x="612.2" y="221.25" width="14.4" height="9.17" fill="#c8c8c8"/>
<line x1="612.2" y1="175.4" x2="612.2" y2="267.1" stroke="#b4acac" stroke-width="0.9"/>
<line x1="626.6" y1="175.4" x2="626.6" y2="267.1" stroke="#b4acac" stroke-width="0.9"/>
<line x1="612.2" y1="175.4" x2="626.6" y2="175.4" stroke="#a8a0a0" stroke-width="0.95"/>
<line x1="612.2" y1="184.57" x2="626.6" y2="184.57" stroke="#857b7b" stroke-width="0.95"/>
<line x1="612.2" y1="193.74" x2="626.6" y2="193.74" stroke="#857b7b" stroke-width="0.95"/>
<line x1="612.2" y1="202.91" x2="626.6" y2="202.91" stroke="#857b7b" stroke-width="0.95"/>
<line x1="612.2" y1="212.08" x2="626.6" y2="212.08" stroke="#857b7b" stroke-width="0.95"/>
<line x1="612.2" y1="221.25" x2="626.6" y2="221.25" stroke="#857b7b" stroke-width="0.95"/>
<line x1="612.2" y1="230.42" x2="626.6" y2="230.42" stroke="#857b7b" stroke-width="0.95"/>
<line x1="612.2" y1="239.59" x2="626.6" y2="239.59" stroke="#857b7b" stroke-width="0.95"/>
<line x1="612.2" y1="248.76" x2="626.6" y2="248.76" stroke="#857b7b" stroke-width="0.95"/>
<line x1="612.2" y1="257.93" x2="626.6" y2="257.93" stroke="#857b7b" stroke-width="0.95"/>
<line x1="612.2" y1="267.1" x2="626.6" y2="267.1" stroke="#a8a0a0" stroke-width="0.95"/>
<line x1="619.4" y1="175.4" x2="619.4" y2="180.87" stroke="#1478c0" stroke-width="1.8"/>
<path d="M617.3,180.27 L619.4,184.17 L621.5,180.27 L619.4,181.17 Z" fill="#0e9ae8" stroke="#1a6fae" stroke-width="0.25"/>
<line x1="619.4" y1="193.74" x2="619.4" y2="188.87" stroke="#b80f25" stroke-width="1.8"/>
<path d="M617.3,189.47 L619.4,185.57 L621.5,189.47 L619.4,188.57 Z" fill="#e5061c"/>
<line x1="619.4" y1="193.74" x2="619.4" y2="199.21" stroke="#1478c0" stroke-width="1.8"/>
<path d="M617.3,198.61 L619.4,202.51 L621.5,198.61 L619.4,199.51 Z" fill="#0e9ae8" stroke="#1a6fae" stroke-width="0.25"/>
<line x1="619.4" y1="212.08" x2="619.4" y2="207.21" stroke="#b80f25" stroke-width="1.8"/>
<path d="M617.3,207.81 L619.4,203.91 L621.5,207.81 L619.4,206.91 Z" fill="#e5061c"/>
<rect x="612.5" y="212.58" width="13.8" height="8.17" fill="#fff" stroke="#9ad6f4" stroke-width="1.1"/>
<line x1="617.3" y1="213.58" x2="619.9" y2="217.4" stroke="#1478c0" stroke-width="1.7"/>
<path d="M618.16,218.58 L621.7,220.05 L621.64,216.22 Z" fill="#0e9ae8"/>
<line x1="619.4" y1="239.59" x2="619.4" y2="234.72" stroke="#b80f25" stroke-width="1.8"/>
<path d="M617.3,235.32 L619.4,231.42 L621.5,235.32 L619.4,234.42 Z" fill="#e5061c"/>
<line x1="619.4" y1="239.59" x2="619.4" y2="245.06" stroke="#1478c0" stroke-width="1.8"/>
<path d="M617.3,244.46 L619.4,248.36 L621.5,244.46 L619.4,245.36 Z" fill="#0e9ae8" stroke="#1a6fae" stroke-width="0.25"/>
<line x1="619.4" y1="257.93" x2="619.4" y2="253.06" stroke="#b80f25" stroke-width="1.8"/>
<path d="M617.3,253.66 L619.4,249.76 L621.5,253.66 L619.4,252.76 Z" fill="#e5061c"/>
<line x1="619.4" y1="257.93" x2="619.4" y2="263.4" stroke="#1478c0" stroke-width="1.8"/>
<path d="M617.3,262.8 L619.4,266.7 L621.5,262.8 L619.4,263.7 Z" fill="#0e9ae8" stroke="#1a6fae" stroke-width="0.25"/>
<rect x="645.3" y="221.25" width="14.4" height="9.17" fill="#c8c8c8"/>
<line x1="645.3" y1="175.4" x2="645.3" y2="267.1" stroke="#b4acac" stroke-width="0.9"/>
<line x1="659.7" y1="175.4" x2="659.7" y2="267.1" stroke="#b4acac" stroke-width="0.9"/>
<line x1="645.3" y1="175.4" x2="659.7" y2="175.4" stroke="#a8a0a0" stroke-width="0.95"/>
<line x1="645.3" y1="184.57" x2="659.7" y2="184.57" stroke="#857b7b" stroke-width="0.95"/>
<line x1="645.3" y1="193.74" x2="659.7" y2="193.74" stroke="#857b7b" stroke-width="0.95"/>
<line x1="645.3" y1="202.91" x2="659.7" y2="202.91" stroke="#857b7b" stroke-width="0.95"/>
<line x1="645.3" y1="212.08" x2="659.7" y2="212.08" stroke="#857b7b" stroke-width="0.95"/>
<line x1="645.3" y1="221.25" x2="659.7" y2="221.25" stroke="#857b7b" stroke-width="0.95"/>
<line x1="645.3" y1="230.42" x2="659.7" y2="230.42" stroke="#857b7b" stroke-width="0.95"/>
<line x1="645.3" y1="239.59" x2="659.7" y2="239.59" stroke="#857b7b" stroke-width="0.95"/>
<line x1="645.3" y1="248.76" x2="659.7" y2="248.76" stroke="#857b7b" stroke-width="0.95"/>
<line x1="645.3" y1="257.93" x2="659.7" y2="257.93" stroke="#857b7b" stroke-width="0.95"/>
<line x1="645.3" y1="267.1" x2="659.7" y2="267.1" stroke="#a8a0a0" stroke-width="0.95"/>
<line x1="652.5" y1="175.4" x2="652.5" y2="180.87" stroke="#1478c0" stroke-width="1.8"/>
<path d="M650.4,180.27 L652.5,184.17 L654.6,180.27 L652.5,181.17 Z" fill="#0e9ae8" stroke="#1a6fae" stroke-width="0.25"/>
<line x1="652.5" y1="193.74" x2="652.5" y2="188.87" stroke="#b80f25" stroke-width="1.8"/>
<path d="M650.4,189.47 L652.5,185.57 L654.6,189.47 L652.5,188.57 Z" fill="#e5061c"/>
<line x1="652.5" y1="193.74" x2="652.5" y2="199.21" stroke="#1478c0" stroke-width="1.8"/>
<path d="M650.4,198.61 L652.5,202.51 L654.6,198.61 L652.5,199.51 Z" fill="#0e9ae8" stroke="#1a6fae" stroke-width="0.25"/>
<line x1="652.5" y1="212.08" x2="652.5" y2="207.21" stroke="#b80f25" stroke-width="1.8"/>
<path d="M650.4,207.81 L652.5,203.91 L654.6,207.81 L652.5,206.91 Z" fill="#e5061c"/>
<line x1="652.5" y1="221.25" x2="652.5" y2="216.38" stroke="#b80f25" stroke-width="1.8"/>
<path d="M650.4,216.98 L652.5,213.08 L654.6,216.98 L652.5,216.08 Z" fill="#e5061c"/>
<line x1="652.5" y1="239.59" x2="652.5" y2="234.72" stroke="#b80f25" stroke-width="1.8"/>
<path d="M650.4,235.32 L652.5,231.42 L654.6,235.32 L652.5,234.42 Z" fill="#e5061c"/>
<line x1="652.5" y1="239.59" x2="652.5" y2="245.06" stroke="#1478c0" stroke-width="1.8"/>
<path d="M650.4,244.46 L652.5,248.36 L654.6,244.46 L652.5,245.36 Z" fill="#0e9ae8" stroke="#1a6fae" stroke-width="0.25"/>
<line x1="652.5" y1="257.93" x2="652.5" y2="253.06" stroke="#b80f25" stroke-width="1.8"/>
<path d="M650.4,253.66 L652.5,249.76 L654.6,253.66 L652.5,252.76 Z" fill="#e5061c"/>
<line x1="652.5" y1="257.93" x2="652.5" y2="263.4" stroke="#1478c0" stroke-width="1.8"/>
<path d="M650.4,262.8 L652.5,266.7 L654.6,262.8 L652.5,263.7 Z" fill="#0e9ae8" stroke="#1a6fae" stroke-width="0.25"/>
<rect x="669.8" y="221.25" width="14" height="9.17" fill="#c8c8c8"/>
<line x1="669.8" y1="175.4" x2="669.8" y2="267.1" stroke="#b4acac" stroke-width="0.9"/>
<line x1="683.8" y1="175.4" x2="683.8" y2="267.1" stroke="#b4acac" stroke-width="0.9"/>
<line x1="669.8" y1="175.4" x2="683.8" y2="175.4" stroke="#a8a0a0" stroke-width="0.95"/>
<line x1="669.8" y1="184.57" x2="683.8" y2="184.57" stroke="#857b7b" stroke-width="0.95"/>
<line x1="669.8" y1="193.74" x2="683.8" y2="193.74" stroke="#857b7b" stroke-width="0.95"/>
<line x1="669.8" y1="202.91" x2="683.8" y2="202.91" stroke="#857b7b" stroke-width="0.95"/>
<line x1="669.8" y1="212.08" x2="683.8" y2="212.08" stroke="#857b7b" stroke-width="0.95"/>
<line x1="669.8" y1="221.25" x2="683.8" y2="221.25" stroke="#857b7b" stroke-width="0.95"/>
<line x1="669.8" y1="230.42" x2="683.8" y2="230.42" stroke="#857b7b" stroke-width="0.95"/>
<line x1="669.8" y1="239.59" x2="683.8" y2="239.59" stroke="#857b7b" stroke-width="0.95"/>
<line x1="669.8" y1="248.76" x2="683.8" y2="248.76" stroke="#857b7b" stroke-width="0.95"/>
<line x1="669.8" y1="257.93" x2="683.8" y2="257.93" stroke="#857b7b" stroke-width="0.95"/>
<line x1="669.8" y1="267.1" x2="683.8" y2="267.1" stroke="#a8a0a0" stroke-width="0.95"/>
<line x1="676.8" y1="184.57" x2="676.8" y2="179.7" stroke="#b80f25" stroke-width="1.8"/>
<path d="M674.7,180.3 L676.8,176.4 L678.9,180.3 L676.8,179.4 Z" fill="#e5061c"/>
<line x1="676.8" y1="193.74" x2="676.8" y2="188.87" stroke="#b80f25" stroke-width="1.8"/>
<path d="M674.7,189.47 L676.8,185.57 L678.9,189.47 L676.8,188.57 Z" fill="#e5061c"/>
<line x1="676.8" y1="202.91" x2="676.8" y2="198.04" stroke="#b80f25" stroke-width="1.8"/>
<path d="M674.7,198.64 L676.8,194.74 L678.9,198.64 L676.8,197.74 Z" fill="#e5061c"/>
<line x1="676.8" y1="212.08" x2="676.8" y2="207.21" stroke="#b80f25" stroke-width="1.8"/>
<path d="M674.7,207.81 L676.8,203.91 L678.9,207.81 L676.8,206.91 Z" fill="#e5061c"/>
<line x1="676.8" y1="221.25" x2="676.8" y2="216.38" stroke="#b80f25" stroke-width="1.8"/>
<path d="M674.7,216.98 L676.8,213.08 L678.9,216.98 L676.8,216.08 Z" fill="#e5061c"/>
<line x1="676.8" y1="239.59" x2="676.8" y2="234.72" stroke="#b80f25" stroke-width="1.8"/>
<path d="M674.7,235.32 L676.8,231.42 L678.9,235.32 L676.8,234.42 Z" fill="#e5061c"/>
<line x1="676.8" y1="248.76" x2="676.8" y2="243.89" stroke="#b80f25" stroke-width="1.8"/>
<path d="M674.7,244.49 L676.8,240.59 L678.9,244.49 L676.8,243.59 Z" fill="#e5061c"/>
<line x1="676.8" y1="257.93" x2="676.8" y2="253.06" stroke="#b80f25" stroke-width="1.8"/>
<path d="M674.7,253.66 L676.8,249.76 L678.9,253.66 L676.8,252.76 Z" fill="#e5061c"/>
<line x1="676.8" y1="267.1" x2="676.8" y2="262.23" stroke="#b80f25" stroke-width="1.8"/>
<path d="M674.7,262.83 L676.8,258.93 L678.9,262.83 L676.8,261.93 Z" fill="#e5061c"/>
<circle cx="523.9" cy="20.8" r="4.9" fill="none" stroke="#444" stroke-width="0.55"/>
<text x="523.9" y="23.72" font-size="8.6" text-anchor="middle" fill="#111" stroke="#111" stroke-width="0.22" font-family="Liberation Serif">1</text>
<circle cx="547.3" cy="20.8" r="4.9" fill="none" stroke="#444" stroke-width="0.55"/>
<text x="547.3" y="23.72" font-size="8.6" text-anchor="middle" fill="#111" stroke="#111" stroke-width="0.22" font-family="Liberation Serif">2</text>
<circle cx="580.9" cy="20.8" r="4.9" fill="none" stroke="#444" stroke-width="0.55"/>
<text x="580.9" y="23.72" font-size="8.6" text-anchor="middle" fill="#111" stroke="#111" stroke-width="0.22" font-family="Liberation Serif">3</text>
<circle cx="604.1" cy="20.8" r="4.9" fill="none" stroke="#444" stroke-width="0.55"/>
<text x="604.1" y="23.72" font-size="8.6" text-anchor="middle" fill="#111" stroke="#111" stroke-width="0.22" font-family="Liberation Serif">4</text>
<circle cx="627.7" cy="20.8" r="4.9" fill="none" stroke="#444" stroke-width="0.55"/>
<text x="627.7" y="23.72" font-size="8.6" text-anchor="middle" fill="#111" stroke="#111" stroke-width="0.22" font-family="Liberation Serif">5</text>
<circle cx="651.2" cy="20.8" r="4.9" fill="none" stroke="#444" stroke-width="0.55"/>
<text x="651.2" y="23.72" font-size="8.6" text-anchor="middle" fill="#111" stroke="#111" stroke-width="0.22" font-family="Liberation Serif">6</text>
<circle cx="675.8" cy="20.8" r="4.9" fill="none" stroke="#444" stroke-width="0.55"/>
<text x="675.8" y="23.72" font-size="8.6" text-anchor="middle" fill="#111" stroke="#111" stroke-width="0.22" font-family="Liberation Serif">7</text>
<circle cx="525.1" cy="166.4" r="4.9" fill="none" stroke="#444" stroke-width="0.55"/>
<text x="525.1" y="169.32" font-size="8.6" text-anchor="middle" fill="#111" stroke="#111" stroke-width="0.22" font-family="Liberation Serif">7</text>
<circle cx="548.8" cy="166.4" r="4.9" fill="none" stroke="#444" stroke-width="0.55"/>
<text x="548.8" y="169.32" font-size="8.6" text-anchor="middle" fill="#111" stroke="#111" stroke-width="0.22" font-family="Liberation Serif">6</text>
<circle cx="572.4" cy="166.4" r="4.9" fill="none" stroke="#444" stroke-width="0.55"/>
<text x="572.4" y="169.32" font-size="8.6" text-anchor="middle" fill="#111" stroke="#111" stroke-width="0.22" font-family="Liberation Serif">5</text>
<circle cx="595.9" cy="166.4" r="4.9" fill="none" stroke="#444" stroke-width="0.55"/>
<text x="595.9" y="169.32" font-size="8.6" text-anchor="middle" fill="#111" stroke="#111" stroke-width="0.22" font-family="Liberation Serif">4</text>
<circle cx="619.2" cy="166.4" r="4.9" fill="none" stroke="#444" stroke-width="0.55"/>
<text x="619.2" y="169.32" font-size="8.6" text-anchor="middle" fill="#111" stroke="#111" stroke-width="0.22" font-family="Liberation Serif">3</text>
<circle cx="652.7" cy="166.4" r="4.9" fill="none" stroke="#444" stroke-width="0.55"/>
<text x="652.7" y="169.32" font-size="8.6" text-anchor="middle" fill="#111" stroke="#111" stroke-width="0.22" font-family="Liberation Serif">2</text>
<circle cx="677.2" cy="166.4" r="4.9" fill="none" stroke="#444" stroke-width="0.55"/>
<text x="677.2" y="169.32" font-size="8.6" text-anchor="middle" fill="#111" stroke="#111" stroke-width="0.22" font-family="Liberation Serif">1</text>
<path d="M554.7,56.3 H558.1 V74.4 H554.7 M558.1,65.4 H561.4" fill="none" stroke="#333" stroke-width="0.9"/>
<text transform="translate(563.9,55.5) rotate(90)" font-size="9.4" text-anchor="middle" fill="#1a1a1a" font-family="Liberation Sans">M1 state</text>
<path d="M645.3,202.0 H641.8 V219.9 H645.3 M641.8,211.2 H638.2" fill="none" stroke="#333" stroke-width="0.9"/>
<text transform="translate(635.8,203.3) rotate(-90)" font-size="9.4" text-anchor="middle" fill="#1a1a1a" font-family="Liberation Sans">M1 state</text>
<line x1="527.6" y1="131.1" x2="675" y2="131.1" stroke="#f39a1e" stroke-width="1.2" />
<path d="M666.4,128.0 L675.2,131.1 L666.4,134.3" fill="none" stroke="#f39a1e" stroke-width="1.4" stroke-linejoin="miter"/>
<line x1="528.2" y1="155" x2="676" y2="155" stroke="#22a64a" stroke-width="1.5" />
<path d="M536.6,151.8 L528.0,155.0 L536.6,158.2" fill="none" stroke="#22a64a" stroke-width="1.5" stroke-linejoin="miter"/>
<path d="M522.6,153.6 C516.6,148.5 516.0,140.5 520.6,135.6" fill="none" stroke="url(#cvL)" stroke-width="1.3"/>
<path d="M518.6,135.0 L522.4,133.4 L522.4,137.4 Z" fill="#f39a1e" stroke="#f39a1e" stroke-width="0.8"/>
<path d="M680.0,133.2 C685.6,138.5 685.4,147 680.9,152.6" fill="none" stroke="url(#cvR)" stroke-width="1.3"/>
<path d="M683.2,151.0 L680.4,153.6 L679.4,149.9" fill="none" stroke="#22a64a" stroke-width="1.2"/>
<path d="M545.7,139.9 L548.3,136.7 L550.9,139.9 Z" fill="#f5a020"/>
<line x1="548.3" y1="139.7" x2="548.3" y2="143" stroke="#c8b020" stroke-width="1.2" />
<line x1="548.3" y1="147" x2="548.3" y2="150.8" stroke="#22a64a" stroke-width="1.3" />
<path d="M546,142.4 L550.6,147.6 M550.6,142.4 L546,147.6" stroke="#111" stroke-width="1.9" fill="none"/>
<line x1="652" y1="136.7" x2="652" y2="140.5" stroke="#f5b020" stroke-width="1.4" />
<path d="M649.5,146.9 L652,150.3 L654.5,146.9 Z" fill="#22a64a"/>
<line x1="652" y1="144.5" x2="652" y2="147.3" stroke="#22a64a" stroke-width="1.3" />
<path d="M649.7,139.9 L654.3,145.1 M654.3,139.9 L649.7,145.1" stroke="#111" stroke-width="1.9" fill="none"/>
</svg>
</body></html>
